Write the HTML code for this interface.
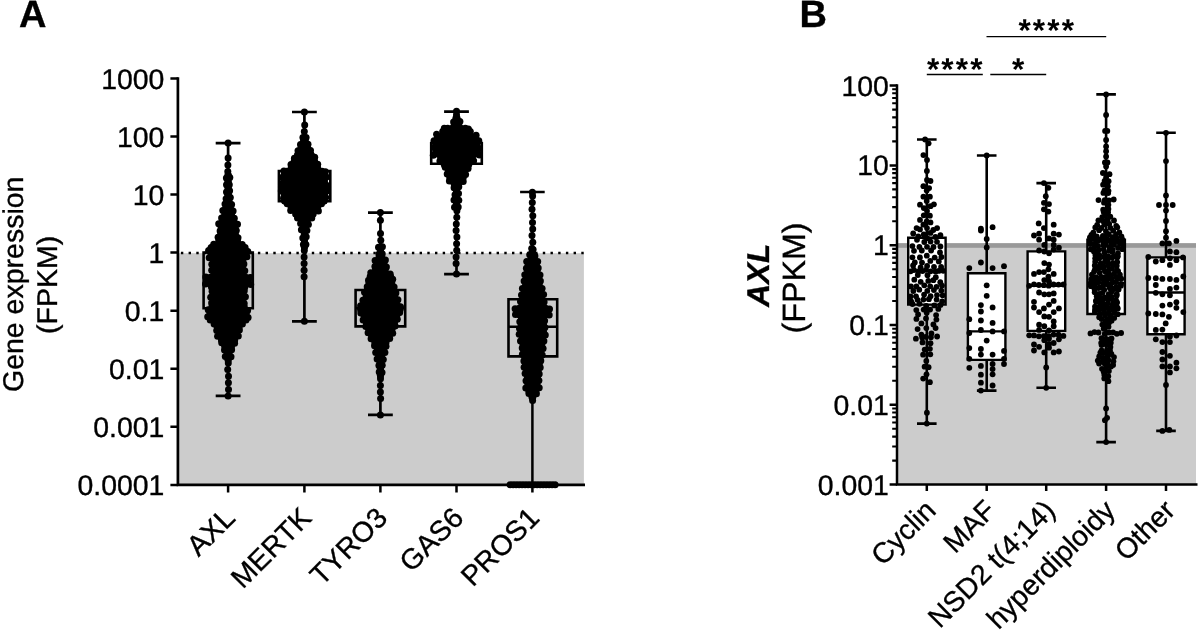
<!DOCTYPE html>
<html lang="en"><head><meta charset="utf-8"><title>Figure</title>
<style>html,body{margin:0;padding:0;background:#fff;overflow:hidden}body{width:1200px;height:630px;position:relative}svg{display:block}</style></head>
<body>
<svg width="1200" height="630" viewBox="0 0 1200 630" style="position:absolute;left:0;top:0;font-family:'Liberation Sans', Arial, Helvetica, sans-serif" text-rendering="geometricPrecision">
<style>text{stroke:#000;stroke-width:0.35px;paint-order:stroke}</style>
<rect x="0" y="0" width="1200" height="630" fill="#fff"/>
<text x="19.1" y="26.8" font-size="38" font-weight="700">A</text>
<text x="799.6" y="26.8" font-size="38" font-weight="700">B</text>
<rect x="177.9" y="253.2" width="406" height="231.7" fill="#cccccc"/>
<path d="M180.9 253H583.9" stroke="#000" stroke-width="2.4" stroke-dasharray="2.4 5.3" fill="none"/>
<path d="M203.6 252.5H252.8V308.3H203.6ZM203.6 276H252.8" fill="none" stroke="#000" stroke-width="2.6"/>
<path d="M278.9 171H330.3V201.3H278.9ZM278.9 187H330.3" fill="none" stroke="#000" stroke-width="2.6"/>
<path d="M355.6 290H405.2V326.4H355.6ZM355.6 308H405.2" fill="none" stroke="#000" stroke-width="2.6"/>
<path d="M431.2 143H481.8V163.8H431.2ZM431.2 153H481.8" fill="none" stroke="#000" stroke-width="2.6"/>
<path d="M508.5 299.3H557.2V356.4H508.5ZM508.5 326.8H557.2" fill="none" stroke="#000" stroke-width="2.6"/>
<path d="M215.7 143.1H240.5M215.7 395.9H240.5M228.1 143.1V395.9" fill="none" stroke="#000" stroke-width="2.7"/>
<path d="M292 112H316.8M292 321.3H316.8M304.4 112V321.3" fill="none" stroke="#000" stroke-width="2.7"/>
<path d="M368 212.6H392.8M368 414.9H392.8M380.4 212.6V414.9" fill="none" stroke="#000" stroke-width="2.7"/>
<path d="M444.1 111.6H468.9M444.1 274.2H468.9M456.5 111.6V274.2" fill="none" stroke="#000" stroke-width="2.7"/>
<path d="M520.1 192.1H544.7M532.4 192.1V484.7" fill="none" stroke="#000" stroke-width="2.5"/>
<g fill="#000"><circle cx="227.9" cy="165" r="3.5"/><circle cx="227.8" cy="171.6" r="3.5"/><circle cx="228.1" cy="174.9" r="3.5"/><circle cx="228.1" cy="174.9" r="3.5"/><circle cx="228.1" cy="178.2" r="3.5"/><circle cx="229.8" cy="177.5" r="3.5"/><circle cx="226.4" cy="178" r="3.5"/><circle cx="228.1" cy="181.5" r="3.5"/><circle cx="228.1" cy="181.5" r="3.5"/><circle cx="228.1" cy="184.8" r="3.5"/><circle cx="229.3" cy="184.8" r="3.5"/><circle cx="226.5" cy="184.7" r="3.5"/><circle cx="228.1" cy="188.1" r="3.5"/><circle cx="228.1" cy="188.1" r="3.5"/><circle cx="228.1" cy="191.4" r="3.5"/><circle cx="229.6" cy="190.7" r="3.5"/><circle cx="226.5" cy="191.9" r="3.5"/><circle cx="228.5" cy="194.7" r="3.5"/><circle cx="227.7" cy="194.7" r="3.5"/><circle cx="228.1" cy="198" r="3.5"/><circle cx="230.3" cy="197.6" r="3.5"/><circle cx="226.1" cy="198.7" r="3.5"/><circle cx="229" cy="201.3" r="3.5"/><circle cx="227.2" cy="201.3" r="3.5"/><circle cx="228.1" cy="204.6" r="3.5"/><circle cx="231.6" cy="204.4" r="3.5"/><circle cx="225" cy="203.9" r="3.5"/><circle cx="225.9" cy="207.9" r="3.5"/><circle cx="230.3" cy="207.9" r="3.5"/><circle cx="230" cy="207.9" r="3.5"/><circle cx="226.2" cy="207.9" r="3.5"/><circle cx="228.1" cy="211.2" r="3.5"/><circle cx="233.1" cy="210.9" r="3.5"/><circle cx="222.8" cy="210.6" r="3.5"/><circle cx="225.9" cy="214.5" r="3.5"/><circle cx="230.3" cy="214.5" r="3.5"/><circle cx="231.5" cy="214.5" r="3.5"/><circle cx="224.7" cy="214.5" r="3.5"/><circle cx="223.7" cy="217.8" r="3.5"/><circle cx="228.1" cy="217.8" r="3.5"/><circle cx="232.5" cy="217.8" r="3.5"/><circle cx="234.3" cy="218.3" r="3.5"/><circle cx="221.6" cy="217.9" r="3.5"/><circle cx="225.9" cy="221.1" r="3.5"/><circle cx="230.3" cy="221.1" r="3.5"/><circle cx="233.8" cy="221.1" r="3.5"/><circle cx="222.4" cy="221.1" r="3.5"/><circle cx="223.7" cy="224.4" r="3.5"/><circle cx="228.1" cy="224.4" r="3.5"/><circle cx="232.5" cy="224.4" r="3.5"/><circle cx="237.5" cy="224.2" r="3.5"/><circle cx="218.7" cy="223.7" r="3.5"/><circle cx="221.5" cy="227.7" r="3.5"/><circle cx="225.9" cy="227.7" r="3.5"/><circle cx="230.3" cy="227.7" r="3.5"/><circle cx="234.7" cy="227.7" r="3.5"/><circle cx="235.1" cy="227.7" r="3.5"/><circle cx="221.1" cy="227.7" r="3.5"/><circle cx="223.7" cy="231" r="3.5"/><circle cx="228.1" cy="231" r="3.5"/><circle cx="232.5" cy="231" r="3.5"/><circle cx="236.3" cy="230.5" r="3.5"/><circle cx="220.1" cy="230.9" r="3.5"/><circle cx="221.5" cy="234.3" r="3.5"/><circle cx="225.9" cy="234.3" r="3.5"/><circle cx="230.3" cy="234.3" r="3.5"/><circle cx="234.7" cy="234.3" r="3.5"/><circle cx="235.4" cy="234.3" r="3.5"/><circle cx="220.8" cy="234.3" r="3.5"/><circle cx="223.7" cy="237.6" r="3.5"/><circle cx="228.1" cy="237.6" r="3.5"/><circle cx="232.5" cy="237.6" r="3.5"/><circle cx="238" cy="237.7" r="3.5"/><circle cx="218.1" cy="237.3" r="3.5"/><circle cx="221.5" cy="240.9" r="3.5"/><circle cx="225.9" cy="240.9" r="3.5"/><circle cx="230.3" cy="240.9" r="3.5"/><circle cx="234.7" cy="240.9" r="3.5"/><circle cx="237.5" cy="240.9" r="3.5"/><circle cx="218.7" cy="240.9" r="3.5"/><circle cx="219.3" cy="244.2" r="3.5"/><circle cx="223.7" cy="244.2" r="3.5"/><circle cx="228.1" cy="244.2" r="3.5"/><circle cx="232.5" cy="244.2" r="3.5"/><circle cx="236.9" cy="244.2" r="3.5"/><circle cx="242.2" cy="244.5" r="3.5"/><circle cx="213.7" cy="244.3" r="3.5"/><circle cx="212.7" cy="247.5" r="3.5"/><circle cx="217.1" cy="247.5" r="3.5"/><circle cx="221.5" cy="247.5" r="3.5"/><circle cx="225.9" cy="247.5" r="3.5"/><circle cx="230.3" cy="247.5" r="3.5"/><circle cx="234.7" cy="247.5" r="3.5"/><circle cx="239.1" cy="247.5" r="3.5"/><circle cx="243.5" cy="247.5" r="3.5"/><circle cx="245.1" cy="247.5" r="3.5"/><circle cx="211.1" cy="247.5" r="3.5"/><circle cx="210.5" cy="250.8" r="3.5"/><circle cx="214.9" cy="250.8" r="3.5"/><circle cx="219.3" cy="250.8" r="3.5"/><circle cx="223.7" cy="250.8" r="3.5"/><circle cx="228.1" cy="250.8" r="3.5"/><circle cx="232.5" cy="250.8" r="3.5"/><circle cx="236.9" cy="250.8" r="3.5"/><circle cx="241.3" cy="250.8" r="3.5"/><circle cx="245.7" cy="250.8" r="3.5"/><circle cx="247.8" cy="251.4" r="3.5"/><circle cx="208.6" cy="250.5" r="3.5"/><circle cx="212.7" cy="254.1" r="3.5"/><circle cx="217.1" cy="254.1" r="3.5"/><circle cx="221.5" cy="254.1" r="3.5"/><circle cx="225.9" cy="254.1" r="3.5"/><circle cx="230.3" cy="254.1" r="3.5"/><circle cx="234.7" cy="254.1" r="3.5"/><circle cx="239.1" cy="254.1" r="3.5"/><circle cx="243.5" cy="254.1" r="3.5"/><circle cx="245.2" cy="254.1" r="3.5"/><circle cx="211" cy="254.1" r="3.5"/><circle cx="214.9" cy="257.4" r="3.5"/><circle cx="219.3" cy="257.4" r="3.5"/><circle cx="223.7" cy="257.4" r="3.5"/><circle cx="228.1" cy="257.4" r="3.5"/><circle cx="232.5" cy="257.4" r="3.5"/><circle cx="236.9" cy="257.4" r="3.5"/><circle cx="241.3" cy="257.4" r="3.5"/><circle cx="246.9" cy="256.8" r="3.5"/><circle cx="209.2" cy="257.8" r="3.5"/><circle cx="217.1" cy="260.7" r="3.5"/><circle cx="221.5" cy="260.7" r="3.5"/><circle cx="225.9" cy="260.7" r="3.5"/><circle cx="230.3" cy="260.7" r="3.5"/><circle cx="234.7" cy="260.7" r="3.5"/><circle cx="239.1" cy="260.7" r="3.5"/><circle cx="242.9" cy="260.7" r="3.5"/><circle cx="213.3" cy="260.7" r="3.5"/><circle cx="214.9" cy="264" r="3.5"/><circle cx="219.3" cy="264" r="3.5"/><circle cx="223.7" cy="264" r="3.5"/><circle cx="228.1" cy="264" r="3.5"/><circle cx="232.5" cy="264" r="3.5"/><circle cx="236.9" cy="264" r="3.5"/><circle cx="241.3" cy="264" r="3.5"/><circle cx="243.9" cy="264" r="3.5"/><circle cx="211.8" cy="264.3" r="3.5"/><circle cx="217.1" cy="267.3" r="3.5"/><circle cx="221.5" cy="267.3" r="3.5"/><circle cx="225.9" cy="267.3" r="3.5"/><circle cx="230.3" cy="267.3" r="3.5"/><circle cx="234.7" cy="267.3" r="3.5"/><circle cx="239.1" cy="267.3" r="3.5"/><circle cx="242.4" cy="267.3" r="3.5"/><circle cx="213.8" cy="267.3" r="3.5"/><circle cx="214.9" cy="270.6" r="3.5"/><circle cx="219.3" cy="270.6" r="3.5"/><circle cx="223.7" cy="270.6" r="3.5"/><circle cx="228.1" cy="270.6" r="3.5"/><circle cx="232.5" cy="270.6" r="3.5"/><circle cx="236.9" cy="270.6" r="3.5"/><circle cx="241.3" cy="270.6" r="3.5"/><circle cx="244.8" cy="270.7" r="3.5"/><circle cx="211.7" cy="270.3" r="3.5"/><circle cx="217.1" cy="273.9" r="3.5"/><circle cx="221.5" cy="273.9" r="3.5"/><circle cx="225.9" cy="273.9" r="3.5"/><circle cx="230.3" cy="273.9" r="3.5"/><circle cx="234.7" cy="273.9" r="3.5"/><circle cx="239.1" cy="273.9" r="3.5"/><circle cx="242.4" cy="273.9" r="3.5"/><circle cx="213.8" cy="273.9" r="3.5"/><circle cx="210.5" cy="277.2" r="3.5"/><circle cx="214.9" cy="277.2" r="3.5"/><circle cx="219.3" cy="277.2" r="3.5"/><circle cx="223.7" cy="277.2" r="3.5"/><circle cx="228.1" cy="277.2" r="3.5"/><circle cx="232.5" cy="277.2" r="3.5"/><circle cx="236.9" cy="277.2" r="3.5"/><circle cx="241.3" cy="277.2" r="3.5"/><circle cx="245.7" cy="277.2" r="3.5"/><circle cx="250.4" cy="277.4" r="3.5"/><circle cx="205.8" cy="277.1" r="3.5"/><circle cx="208.3" cy="280.5" r="3.5"/><circle cx="212.7" cy="280.5" r="3.5"/><circle cx="217.1" cy="280.5" r="3.5"/><circle cx="221.5" cy="280.5" r="3.5"/><circle cx="225.9" cy="280.5" r="3.5"/><circle cx="230.3" cy="280.5" r="3.5"/><circle cx="234.7" cy="280.5" r="3.5"/><circle cx="239.1" cy="280.5" r="3.5"/><circle cx="243.5" cy="280.5" r="3.5"/><circle cx="247.9" cy="280.5" r="3.5"/><circle cx="248.1" cy="280.5" r="3.5"/><circle cx="208.1" cy="280.5" r="3.5"/><circle cx="210.5" cy="283.8" r="3.5"/><circle cx="214.9" cy="283.8" r="3.5"/><circle cx="219.3" cy="283.8" r="3.5"/><circle cx="223.7" cy="283.8" r="3.5"/><circle cx="228.1" cy="283.8" r="3.5"/><circle cx="232.5" cy="283.8" r="3.5"/><circle cx="236.9" cy="283.8" r="3.5"/><circle cx="241.3" cy="283.8" r="3.5"/><circle cx="245.7" cy="283.8" r="3.5"/><circle cx="250.7" cy="284.5" r="3.5"/><circle cx="205.5" cy="284.1" r="3.5"/><circle cx="212.7" cy="287.1" r="3.5"/><circle cx="217.1" cy="287.1" r="3.5"/><circle cx="221.5" cy="287.1" r="3.5"/><circle cx="225.9" cy="287.1" r="3.5"/><circle cx="230.3" cy="287.1" r="3.5"/><circle cx="234.7" cy="287.1" r="3.5"/><circle cx="239.1" cy="287.1" r="3.5"/><circle cx="243.5" cy="287.1" r="3.5"/><circle cx="244.8" cy="287.1" r="3.5"/><circle cx="211.4" cy="287.1" r="3.5"/><circle cx="214.9" cy="290.4" r="3.5"/><circle cx="219.3" cy="290.4" r="3.5"/><circle cx="223.7" cy="290.4" r="3.5"/><circle cx="228.1" cy="290.4" r="3.5"/><circle cx="232.5" cy="290.4" r="3.5"/><circle cx="236.9" cy="290.4" r="3.5"/><circle cx="241.3" cy="290.4" r="3.5"/><circle cx="244.3" cy="290.7" r="3.5"/><circle cx="212.1" cy="291.2" r="3.5"/><circle cx="217.1" cy="293.7" r="3.5"/><circle cx="221.5" cy="293.7" r="3.5"/><circle cx="225.9" cy="293.7" r="3.5"/><circle cx="230.3" cy="293.7" r="3.5"/><circle cx="234.7" cy="293.7" r="3.5"/><circle cx="239.1" cy="293.7" r="3.5"/><circle cx="242.9" cy="293.7" r="3.5"/><circle cx="213.3" cy="293.7" r="3.5"/><circle cx="214.9" cy="297" r="3.5"/><circle cx="219.3" cy="297" r="3.5"/><circle cx="223.7" cy="297" r="3.5"/><circle cx="228.1" cy="297" r="3.5"/><circle cx="232.5" cy="297" r="3.5"/><circle cx="236.9" cy="297" r="3.5"/><circle cx="241.3" cy="297" r="3.5"/><circle cx="245.4" cy="296.7" r="3.5"/><circle cx="210.7" cy="297.3" r="3.5"/><circle cx="217.1" cy="300.3" r="3.5"/><circle cx="221.5" cy="300.3" r="3.5"/><circle cx="225.9" cy="300.3" r="3.5"/><circle cx="230.3" cy="300.3" r="3.5"/><circle cx="234.7" cy="300.3" r="3.5"/><circle cx="239.1" cy="300.3" r="3.5"/><circle cx="242.9" cy="300.3" r="3.5"/><circle cx="213.3" cy="300.3" r="3.5"/><circle cx="214.9" cy="303.6" r="3.5"/><circle cx="219.3" cy="303.6" r="3.5"/><circle cx="223.7" cy="303.6" r="3.5"/><circle cx="228.1" cy="303.6" r="3.5"/><circle cx="232.5" cy="303.6" r="3.5"/><circle cx="236.9" cy="303.6" r="3.5"/><circle cx="241.3" cy="303.6" r="3.5"/><circle cx="244.2" cy="303.5" r="3.5"/><circle cx="211.6" cy="303" r="3.5"/><circle cx="212.7" cy="306.9" r="3.5"/><circle cx="217.1" cy="306.9" r="3.5"/><circle cx="221.5" cy="306.9" r="3.5"/><circle cx="225.9" cy="306.9" r="3.5"/><circle cx="230.3" cy="306.9" r="3.5"/><circle cx="234.7" cy="306.9" r="3.5"/><circle cx="239.1" cy="306.9" r="3.5"/><circle cx="243.5" cy="306.9" r="3.5"/><circle cx="244.3" cy="306.9" r="3.5"/><circle cx="211.9" cy="306.9" r="3.5"/><circle cx="210.5" cy="310.2" r="3.5"/><circle cx="214.9" cy="310.2" r="3.5"/><circle cx="219.3" cy="310.2" r="3.5"/><circle cx="223.7" cy="310.2" r="3.5"/><circle cx="228.1" cy="310.2" r="3.5"/><circle cx="232.5" cy="310.2" r="3.5"/><circle cx="236.9" cy="310.2" r="3.5"/><circle cx="241.3" cy="310.2" r="3.5"/><circle cx="245.7" cy="310.2" r="3.5"/><circle cx="247.6" cy="310.6" r="3.5"/><circle cx="208.2" cy="309.8" r="3.5"/><circle cx="212.7" cy="313.5" r="3.5"/><circle cx="217.1" cy="313.5" r="3.5"/><circle cx="221.5" cy="313.5" r="3.5"/><circle cx="225.9" cy="313.5" r="3.5"/><circle cx="230.3" cy="313.5" r="3.5"/><circle cx="234.7" cy="313.5" r="3.5"/><circle cx="239.1" cy="313.5" r="3.5"/><circle cx="243.5" cy="313.5" r="3.5"/><circle cx="246.2" cy="313.5" r="3.5"/><circle cx="210" cy="313.5" r="3.5"/><circle cx="210.5" cy="316.8" r="3.5"/><circle cx="214.9" cy="316.8" r="3.5"/><circle cx="219.3" cy="316.8" r="3.5"/><circle cx="223.7" cy="316.8" r="3.5"/><circle cx="228.1" cy="316.8" r="3.5"/><circle cx="232.5" cy="316.8" r="3.5"/><circle cx="236.9" cy="316.8" r="3.5"/><circle cx="241.3" cy="316.8" r="3.5"/><circle cx="245.7" cy="316.8" r="3.5"/><circle cx="248.1" cy="317.4" r="3.5"/><circle cx="207.7" cy="316.7" r="3.5"/><circle cx="212.7" cy="320.1" r="3.5"/><circle cx="217.1" cy="320.1" r="3.5"/><circle cx="221.5" cy="320.1" r="3.5"/><circle cx="225.9" cy="320.1" r="3.5"/><circle cx="230.3" cy="320.1" r="3.5"/><circle cx="234.7" cy="320.1" r="3.5"/><circle cx="239.1" cy="320.1" r="3.5"/><circle cx="243.5" cy="320.1" r="3.5"/><circle cx="246" cy="320.1" r="3.5"/><circle cx="210.2" cy="320.1" r="3.5"/><circle cx="219.3" cy="323.4" r="3.5"/><circle cx="223.7" cy="323.4" r="3.5"/><circle cx="228.1" cy="323.4" r="3.5"/><circle cx="232.5" cy="323.4" r="3.5"/><circle cx="236.9" cy="323.4" r="3.5"/><circle cx="242.4" cy="324" r="3.5"/><circle cx="214.1" cy="324" r="3.5"/><circle cx="217.1" cy="326.7" r="3.5"/><circle cx="221.5" cy="326.7" r="3.5"/><circle cx="225.9" cy="326.7" r="3.5"/><circle cx="230.3" cy="326.7" r="3.5"/><circle cx="234.7" cy="326.7" r="3.5"/><circle cx="239.1" cy="326.7" r="3.5"/><circle cx="238.7" cy="326.7" r="3.5"/><circle cx="217.5" cy="326.7" r="3.5"/><circle cx="219.3" cy="330" r="3.5"/><circle cx="223.7" cy="330" r="3.5"/><circle cx="228.1" cy="330" r="3.5"/><circle cx="232.5" cy="330" r="3.5"/><circle cx="236.9" cy="330" r="3.5"/><circle cx="239.4" cy="329.9" r="3.5"/><circle cx="216.7" cy="330.6" r="3.5"/><circle cx="221.5" cy="333.3" r="3.5"/><circle cx="225.9" cy="333.3" r="3.5"/><circle cx="230.3" cy="333.3" r="3.5"/><circle cx="234.7" cy="333.3" r="3.5"/><circle cx="236.6" cy="333.3" r="3.5"/><circle cx="219.6" cy="333.3" r="3.5"/><circle cx="223.7" cy="336.6" r="3.5"/><circle cx="228.1" cy="336.6" r="3.5"/><circle cx="232.5" cy="336.6" r="3.5"/><circle cx="238.3" cy="336" r="3.5"/><circle cx="217.6" cy="336.2" r="3.5"/><circle cx="221.5" cy="339.9" r="3.5"/><circle cx="225.9" cy="339.9" r="3.5"/><circle cx="230.3" cy="339.9" r="3.5"/><circle cx="234.7" cy="339.9" r="3.5"/><circle cx="234.4" cy="339.9" r="3.5"/><circle cx="221.8" cy="339.9" r="3.5"/><circle cx="223.7" cy="343.2" r="3.5"/><circle cx="228.1" cy="343.2" r="3.5"/><circle cx="232.5" cy="343.2" r="3.5"/><circle cx="234.6" cy="343.2" r="3.5"/><circle cx="221.7" cy="342.8" r="3.5"/><circle cx="225.9" cy="346.5" r="3.5"/><circle cx="230.3" cy="346.5" r="3.5"/><circle cx="231.5" cy="346.5" r="3.5"/><circle cx="224.7" cy="346.5" r="3.5"/><circle cx="228.1" cy="349.8" r="3.5"/><circle cx="231.6" cy="349.7" r="3.5"/><circle cx="224.5" cy="349.9" r="3.5"/><circle cx="229" cy="353.1" r="3.5"/><circle cx="227.2" cy="353.1" r="3.5"/><circle cx="228.1" cy="356.4" r="3.5"/><circle cx="231" cy="356.7" r="3.5"/><circle cx="225.3" cy="356.6" r="3.5"/><circle cx="228.1" cy="359.7" r="3.5"/><circle cx="228.1" cy="359.7" r="3.5"/><circle cx="228.3" cy="363" r="3.5"/><circle cx="227.7" cy="369.6" r="3.5"/><circle cx="228.5" cy="376.2" r="3.5"/><circle cx="228.4" cy="382.8" r="3.5"/><circle cx="228.5" cy="389.4" r="3.5"/><circle cx="228.1" cy="143.1" r="3.5"/><circle cx="228.1" cy="158" r="3.5"/><circle cx="228.1" cy="395.9" r="3.5"/><circle cx="304.7" cy="125" r="3.5"/><circle cx="304.3" cy="131.6" r="3.5"/><circle cx="304.4" cy="138.2" r="3.5"/><circle cx="306.1" cy="137.6" r="3.5"/><circle cx="302.9" cy="137.5" r="3.5"/><circle cx="305.4" cy="141.5" r="3.5"/><circle cx="303.4" cy="141.5" r="3.5"/><circle cx="304.4" cy="144.8" r="3.5"/><circle cx="308" cy="144.3" r="3.5"/><circle cx="300.5" cy="144.5" r="3.5"/><circle cx="302.2" cy="148.1" r="3.5"/><circle cx="306.6" cy="148.1" r="3.5"/><circle cx="307.8" cy="148.1" r="3.5"/><circle cx="301" cy="148.1" r="3.5"/><circle cx="300" cy="151.4" r="3.5"/><circle cx="304.4" cy="151.4" r="3.5"/><circle cx="308.8" cy="151.4" r="3.5"/><circle cx="310.5" cy="150.6" r="3.5"/><circle cx="298" cy="150.8" r="3.5"/><circle cx="297.8" cy="154.7" r="3.5"/><circle cx="302.2" cy="154.7" r="3.5"/><circle cx="306.6" cy="154.7" r="3.5"/><circle cx="311" cy="154.7" r="3.5"/><circle cx="311.1" cy="154.7" r="3.5"/><circle cx="297.7" cy="154.7" r="3.5"/><circle cx="295.6" cy="158" r="3.5"/><circle cx="300" cy="158" r="3.5"/><circle cx="304.4" cy="158" r="3.5"/><circle cx="308.8" cy="158" r="3.5"/><circle cx="313.2" cy="158" r="3.5"/><circle cx="314.7" cy="157.2" r="3.5"/><circle cx="294.4" cy="158.2" r="3.5"/><circle cx="297.8" cy="161.3" r="3.5"/><circle cx="302.2" cy="161.3" r="3.5"/><circle cx="306.6" cy="161.3" r="3.5"/><circle cx="311" cy="161.3" r="3.5"/><circle cx="314.6" cy="161.3" r="3.5"/><circle cx="294.2" cy="161.3" r="3.5"/><circle cx="295.6" cy="164.6" r="3.5"/><circle cx="300" cy="164.6" r="3.5"/><circle cx="304.4" cy="164.6" r="3.5"/><circle cx="308.8" cy="164.6" r="3.5"/><circle cx="313.2" cy="164.6" r="3.5"/><circle cx="317.7" cy="164.2" r="3.5"/><circle cx="291" cy="164.4" r="3.5"/><circle cx="293.4" cy="167.9" r="3.5"/><circle cx="297.8" cy="167.9" r="3.5"/><circle cx="302.2" cy="167.9" r="3.5"/><circle cx="306.6" cy="167.9" r="3.5"/><circle cx="311" cy="167.9" r="3.5"/><circle cx="315.4" cy="167.9" r="3.5"/><circle cx="317.7" cy="167.9" r="3.5"/><circle cx="291.1" cy="167.9" r="3.5"/><circle cx="286.8" cy="171.2" r="3.5"/><circle cx="291.2" cy="171.2" r="3.5"/><circle cx="295.6" cy="171.2" r="3.5"/><circle cx="300" cy="171.2" r="3.5"/><circle cx="304.4" cy="171.2" r="3.5"/><circle cx="308.8" cy="171.2" r="3.5"/><circle cx="313.2" cy="171.2" r="3.5"/><circle cx="317.6" cy="171.2" r="3.5"/><circle cx="322" cy="171.2" r="3.5"/><circle cx="325.4" cy="171.8" r="3.5"/><circle cx="283.9" cy="171.1" r="3.5"/><circle cx="284.6" cy="174.5" r="3.5"/><circle cx="289" cy="174.5" r="3.5"/><circle cx="293.4" cy="174.5" r="3.5"/><circle cx="297.8" cy="174.5" r="3.5"/><circle cx="302.2" cy="174.5" r="3.5"/><circle cx="306.6" cy="174.5" r="3.5"/><circle cx="311" cy="174.5" r="3.5"/><circle cx="315.4" cy="174.5" r="3.5"/><circle cx="319.8" cy="174.5" r="3.5"/><circle cx="324.2" cy="174.5" r="3.5"/><circle cx="324.4" cy="174.5" r="3.5"/><circle cx="284.4" cy="174.5" r="3.5"/><circle cx="286.8" cy="177.8" r="3.5"/><circle cx="291.2" cy="177.8" r="3.5"/><circle cx="295.6" cy="177.8" r="3.5"/><circle cx="300" cy="177.8" r="3.5"/><circle cx="304.4" cy="177.8" r="3.5"/><circle cx="308.8" cy="177.8" r="3.5"/><circle cx="313.2" cy="177.8" r="3.5"/><circle cx="317.6" cy="177.8" r="3.5"/><circle cx="322" cy="177.8" r="3.5"/><circle cx="326.4" cy="177.1" r="3.5"/><circle cx="282" cy="177.5" r="3.5"/><circle cx="284.6" cy="181.1" r="3.5"/><circle cx="289" cy="181.1" r="3.5"/><circle cx="293.4" cy="181.1" r="3.5"/><circle cx="297.8" cy="181.1" r="3.5"/><circle cx="302.2" cy="181.1" r="3.5"/><circle cx="306.6" cy="181.1" r="3.5"/><circle cx="311" cy="181.1" r="3.5"/><circle cx="315.4" cy="181.1" r="3.5"/><circle cx="319.8" cy="181.1" r="3.5"/><circle cx="324.2" cy="181.1" r="3.5"/><circle cx="324.4" cy="181.1" r="3.5"/><circle cx="284.4" cy="181.1" r="3.5"/><circle cx="286.8" cy="184.4" r="3.5"/><circle cx="291.2" cy="184.4" r="3.5"/><circle cx="295.6" cy="184.4" r="3.5"/><circle cx="300" cy="184.4" r="3.5"/><circle cx="304.4" cy="184.4" r="3.5"/><circle cx="308.8" cy="184.4" r="3.5"/><circle cx="313.2" cy="184.4" r="3.5"/><circle cx="317.6" cy="184.4" r="3.5"/><circle cx="322" cy="184.4" r="3.5"/><circle cx="326.1" cy="184.9" r="3.5"/><circle cx="282.4" cy="183.6" r="3.5"/><circle cx="284.6" cy="187.7" r="3.5"/><circle cx="289" cy="187.7" r="3.5"/><circle cx="293.4" cy="187.7" r="3.5"/><circle cx="297.8" cy="187.7" r="3.5"/><circle cx="302.2" cy="187.7" r="3.5"/><circle cx="306.6" cy="187.7" r="3.5"/><circle cx="311" cy="187.7" r="3.5"/><circle cx="315.4" cy="187.7" r="3.5"/><circle cx="319.8" cy="187.7" r="3.5"/><circle cx="324.2" cy="187.7" r="3.5"/><circle cx="324.4" cy="187.7" r="3.5"/><circle cx="284.4" cy="187.7" r="3.5"/><circle cx="286.8" cy="191" r="3.5"/><circle cx="291.2" cy="191" r="3.5"/><circle cx="295.6" cy="191" r="3.5"/><circle cx="300" cy="191" r="3.5"/><circle cx="304.4" cy="191" r="3.5"/><circle cx="308.8" cy="191" r="3.5"/><circle cx="313.2" cy="191" r="3.5"/><circle cx="317.6" cy="191" r="3.5"/><circle cx="322" cy="191" r="3.5"/><circle cx="327.1" cy="191" r="3.5"/><circle cx="281.3" cy="191.1" r="3.5"/><circle cx="284.6" cy="194.3" r="3.5"/><circle cx="289" cy="194.3" r="3.5"/><circle cx="293.4" cy="194.3" r="3.5"/><circle cx="297.8" cy="194.3" r="3.5"/><circle cx="302.2" cy="194.3" r="3.5"/><circle cx="306.6" cy="194.3" r="3.5"/><circle cx="311" cy="194.3" r="3.5"/><circle cx="315.4" cy="194.3" r="3.5"/><circle cx="319.8" cy="194.3" r="3.5"/><circle cx="324.2" cy="194.3" r="3.5"/><circle cx="324.4" cy="194.3" r="3.5"/><circle cx="284.4" cy="194.3" r="3.5"/><circle cx="286.8" cy="197.6" r="3.5"/><circle cx="291.2" cy="197.6" r="3.5"/><circle cx="295.6" cy="197.6" r="3.5"/><circle cx="300" cy="197.6" r="3.5"/><circle cx="304.4" cy="197.6" r="3.5"/><circle cx="308.8" cy="197.6" r="3.5"/><circle cx="313.2" cy="197.6" r="3.5"/><circle cx="317.6" cy="197.6" r="3.5"/><circle cx="322" cy="197.6" r="3.5"/><circle cx="325.7" cy="197.6" r="3.5"/><circle cx="283.5" cy="198.2" r="3.5"/><circle cx="284.6" cy="200.9" r="3.5"/><circle cx="289" cy="200.9" r="3.5"/><circle cx="293.4" cy="200.9" r="3.5"/><circle cx="297.8" cy="200.9" r="3.5"/><circle cx="302.2" cy="200.9" r="3.5"/><circle cx="306.6" cy="200.9" r="3.5"/><circle cx="311" cy="200.9" r="3.5"/><circle cx="315.4" cy="200.9" r="3.5"/><circle cx="319.8" cy="200.9" r="3.5"/><circle cx="324.2" cy="200.9" r="3.5"/><circle cx="323.8" cy="200.9" r="3.5"/><circle cx="285" cy="200.9" r="3.5"/><circle cx="291.2" cy="204.2" r="3.5"/><circle cx="295.6" cy="204.2" r="3.5"/><circle cx="300" cy="204.2" r="3.5"/><circle cx="304.4" cy="204.2" r="3.5"/><circle cx="308.8" cy="204.2" r="3.5"/><circle cx="313.2" cy="204.2" r="3.5"/><circle cx="317.6" cy="204.2" r="3.5"/><circle cx="321.5" cy="203.8" r="3.5"/><circle cx="287.2" cy="203.7" r="3.5"/><circle cx="293.4" cy="207.5" r="3.5"/><circle cx="297.8" cy="207.5" r="3.5"/><circle cx="302.2" cy="207.5" r="3.5"/><circle cx="306.6" cy="207.5" r="3.5"/><circle cx="311" cy="207.5" r="3.5"/><circle cx="315.4" cy="207.5" r="3.5"/><circle cx="317.7" cy="207.5" r="3.5"/><circle cx="291.1" cy="207.5" r="3.5"/><circle cx="295.6" cy="210.8" r="3.5"/><circle cx="300" cy="210.8" r="3.5"/><circle cx="304.4" cy="210.8" r="3.5"/><circle cx="308.8" cy="210.8" r="3.5"/><circle cx="313.2" cy="210.8" r="3.5"/><circle cx="318.4" cy="210.9" r="3.5"/><circle cx="290.7" cy="210.5" r="3.5"/><circle cx="297.8" cy="214.1" r="3.5"/><circle cx="302.2" cy="214.1" r="3.5"/><circle cx="306.6" cy="214.1" r="3.5"/><circle cx="311" cy="214.1" r="3.5"/><circle cx="313.2" cy="214.1" r="3.5"/><circle cx="295.6" cy="214.1" r="3.5"/><circle cx="300" cy="217.4" r="3.5"/><circle cx="304.4" cy="217.4" r="3.5"/><circle cx="308.8" cy="217.4" r="3.5"/><circle cx="311.8" cy="217.9" r="3.5"/><circle cx="297.5" cy="218" r="3.5"/><circle cx="302.2" cy="220.7" r="3.5"/><circle cx="306.6" cy="220.7" r="3.5"/><circle cx="307.4" cy="220.7" r="3.5"/><circle cx="301.4" cy="220.7" r="3.5"/><circle cx="304.4" cy="224" r="3.5"/><circle cx="308.4" cy="224.5" r="3.5"/><circle cx="300.6" cy="223.6" r="3.5"/><circle cx="305.2" cy="227.3" r="3.5"/><circle cx="303.6" cy="227.3" r="3.5"/><circle cx="304.4" cy="230.6" r="3.5"/><circle cx="306.9" cy="230.4" r="3.5"/><circle cx="301.4" cy="229.8" r="3.5"/><circle cx="304.6" cy="233.9" r="3.5"/><circle cx="304.2" cy="233.9" r="3.5"/><circle cx="304.4" cy="237.2" r="3.5"/><circle cx="306.2" cy="236.8" r="3.5"/><circle cx="302.8" cy="237.9" r="3.5"/><circle cx="304.4" cy="240.5" r="3.5"/><circle cx="304.4" cy="240.5" r="3.5"/><circle cx="304.4" cy="243.8" r="3.5"/><circle cx="305.9" cy="244.5" r="3.5"/><circle cx="303.4" cy="244.5" r="3.5"/><circle cx="304.4" cy="247.1" r="3.5"/><circle cx="304.4" cy="247.1" r="3.5"/><circle cx="304.3" cy="250.4" r="3.5"/><circle cx="304.1" cy="257" r="3.5"/><circle cx="304.1" cy="263.6" r="3.5"/><circle cx="304.1" cy="270.2" r="3.5"/><circle cx="304.1" cy="276.8" r="3.5"/><circle cx="304.4" cy="112.1" r="3.5"/><circle cx="304.4" cy="321.2" r="3.5"/><circle cx="380.5" cy="233.6" r="3.5"/><circle cx="380.8" cy="240.2" r="3.5"/><circle cx="380.4" cy="246.8" r="3.5"/><circle cx="382.4" cy="246.8" r="3.5"/><circle cx="378.5" cy="247.3" r="3.5"/><circle cx="380.4" cy="250.1" r="3.5"/><circle cx="380.4" cy="250.1" r="3.5"/><circle cx="380.4" cy="253.4" r="3.5"/><circle cx="382.2" cy="253.7" r="3.5"/><circle cx="379" cy="253.9" r="3.5"/><circle cx="381.7" cy="256.7" r="3.5"/><circle cx="379.1" cy="256.7" r="3.5"/><circle cx="380.4" cy="260" r="3.5"/><circle cx="385.4" cy="260" r="3.5"/><circle cx="375.1" cy="260.5" r="3.5"/><circle cx="378.2" cy="263.3" r="3.5"/><circle cx="382.6" cy="263.3" r="3.5"/><circle cx="383.9" cy="263.3" r="3.5"/><circle cx="376.8" cy="263.3" r="3.5"/><circle cx="376" cy="266.6" r="3.5"/><circle cx="380.4" cy="266.6" r="3.5"/><circle cx="384.8" cy="266.6" r="3.5"/><circle cx="386.4" cy="267.1" r="3.5"/><circle cx="374.9" cy="266.4" r="3.5"/><circle cx="378.2" cy="269.9" r="3.5"/><circle cx="382.6" cy="269.9" r="3.5"/><circle cx="385.3" cy="269.9" r="3.5"/><circle cx="375.5" cy="269.9" r="3.5"/><circle cx="376" cy="273.2" r="3.5"/><circle cx="380.4" cy="273.2" r="3.5"/><circle cx="384.8" cy="273.2" r="3.5"/><circle cx="390.2" cy="273.9" r="3.5"/><circle cx="370.8" cy="272.7" r="3.5"/><circle cx="373.8" cy="276.5" r="3.5"/><circle cx="378.2" cy="276.5" r="3.5"/><circle cx="382.6" cy="276.5" r="3.5"/><circle cx="387" cy="276.5" r="3.5"/><circle cx="390.6" cy="276.5" r="3.5"/><circle cx="370.2" cy="276.5" r="3.5"/><circle cx="371.6" cy="279.8" r="3.5"/><circle cx="376" cy="279.8" r="3.5"/><circle cx="380.4" cy="279.8" r="3.5"/><circle cx="384.8" cy="279.8" r="3.5"/><circle cx="389.2" cy="279.8" r="3.5"/><circle cx="392.7" cy="279.2" r="3.5"/><circle cx="368.5" cy="280.3" r="3.5"/><circle cx="369.4" cy="283.1" r="3.5"/><circle cx="373.8" cy="283.1" r="3.5"/><circle cx="378.2" cy="283.1" r="3.5"/><circle cx="382.6" cy="283.1" r="3.5"/><circle cx="387" cy="283.1" r="3.5"/><circle cx="391.4" cy="283.1" r="3.5"/><circle cx="391.8" cy="283.1" r="3.5"/><circle cx="369" cy="283.1" r="3.5"/><circle cx="371.6" cy="286.4" r="3.5"/><circle cx="376" cy="286.4" r="3.5"/><circle cx="380.4" cy="286.4" r="3.5"/><circle cx="384.8" cy="286.4" r="3.5"/><circle cx="389.2" cy="286.4" r="3.5"/><circle cx="394.1" cy="286.9" r="3.5"/><circle cx="367.2" cy="286.7" r="3.5"/><circle cx="369.4" cy="289.7" r="3.5"/><circle cx="373.8" cy="289.7" r="3.5"/><circle cx="378.2" cy="289.7" r="3.5"/><circle cx="382.6" cy="289.7" r="3.5"/><circle cx="387" cy="289.7" r="3.5"/><circle cx="391.4" cy="289.7" r="3.5"/><circle cx="393.4" cy="289.7" r="3.5"/><circle cx="367.4" cy="289.7" r="3.5"/><circle cx="367.2" cy="293" r="3.5"/><circle cx="371.6" cy="293" r="3.5"/><circle cx="376" cy="293" r="3.5"/><circle cx="380.4" cy="293" r="3.5"/><circle cx="384.8" cy="293" r="3.5"/><circle cx="389.2" cy="293" r="3.5"/><circle cx="393.6" cy="293" r="3.5"/><circle cx="395.9" cy="293.1" r="3.5"/><circle cx="364.5" cy="292.2" r="3.5"/><circle cx="369.4" cy="296.3" r="3.5"/><circle cx="373.8" cy="296.3" r="3.5"/><circle cx="378.2" cy="296.3" r="3.5"/><circle cx="382.6" cy="296.3" r="3.5"/><circle cx="387" cy="296.3" r="3.5"/><circle cx="391.4" cy="296.3" r="3.5"/><circle cx="394.6" cy="296.3" r="3.5"/><circle cx="366.2" cy="296.3" r="3.5"/><circle cx="367.2" cy="299.6" r="3.5"/><circle cx="371.6" cy="299.6" r="3.5"/><circle cx="376" cy="299.6" r="3.5"/><circle cx="380.4" cy="299.6" r="3.5"/><circle cx="384.8" cy="299.6" r="3.5"/><circle cx="389.2" cy="299.6" r="3.5"/><circle cx="393.6" cy="299.6" r="3.5"/><circle cx="397.9" cy="299.8" r="3.5"/><circle cx="362.9" cy="300.3" r="3.5"/><circle cx="365" cy="302.9" r="3.5"/><circle cx="369.4" cy="302.9" r="3.5"/><circle cx="373.8" cy="302.9" r="3.5"/><circle cx="378.2" cy="302.9" r="3.5"/><circle cx="382.6" cy="302.9" r="3.5"/><circle cx="387" cy="302.9" r="3.5"/><circle cx="391.4" cy="302.9" r="3.5"/><circle cx="395.8" cy="302.9" r="3.5"/><circle cx="396.1" cy="302.9" r="3.5"/><circle cx="364.7" cy="302.9" r="3.5"/><circle cx="362.8" cy="306.2" r="3.5"/><circle cx="367.2" cy="306.2" r="3.5"/><circle cx="371.6" cy="306.2" r="3.5"/><circle cx="376" cy="306.2" r="3.5"/><circle cx="380.4" cy="306.2" r="3.5"/><circle cx="384.8" cy="306.2" r="3.5"/><circle cx="389.2" cy="306.2" r="3.5"/><circle cx="393.6" cy="306.2" r="3.5"/><circle cx="398" cy="306.2" r="3.5"/><circle cx="400.5" cy="306.8" r="3.5"/><circle cx="360.6" cy="305.7" r="3.5"/><circle cx="360.6" cy="309.5" r="3.5"/><circle cx="365" cy="309.5" r="3.5"/><circle cx="369.4" cy="309.5" r="3.5"/><circle cx="373.8" cy="309.5" r="3.5"/><circle cx="378.2" cy="309.5" r="3.5"/><circle cx="382.6" cy="309.5" r="3.5"/><circle cx="387" cy="309.5" r="3.5"/><circle cx="391.4" cy="309.5" r="3.5"/><circle cx="395.8" cy="309.5" r="3.5"/><circle cx="400.2" cy="309.5" r="3.5"/><circle cx="399.7" cy="309.5" r="3.5"/><circle cx="361.1" cy="309.5" r="3.5"/><circle cx="362.8" cy="312.8" r="3.5"/><circle cx="367.2" cy="312.8" r="3.5"/><circle cx="371.6" cy="312.8" r="3.5"/><circle cx="376" cy="312.8" r="3.5"/><circle cx="380.4" cy="312.8" r="3.5"/><circle cx="384.8" cy="312.8" r="3.5"/><circle cx="389.2" cy="312.8" r="3.5"/><circle cx="393.6" cy="312.8" r="3.5"/><circle cx="398" cy="312.8" r="3.5"/><circle cx="399.7" cy="312.5" r="3.5"/><circle cx="360.8" cy="312.9" r="3.5"/><circle cx="365" cy="316.1" r="3.5"/><circle cx="369.4" cy="316.1" r="3.5"/><circle cx="373.8" cy="316.1" r="3.5"/><circle cx="378.2" cy="316.1" r="3.5"/><circle cx="382.6" cy="316.1" r="3.5"/><circle cx="387" cy="316.1" r="3.5"/><circle cx="391.4" cy="316.1" r="3.5"/><circle cx="395.8" cy="316.1" r="3.5"/><circle cx="396.8" cy="316.1" r="3.5"/><circle cx="364" cy="316.1" r="3.5"/><circle cx="367.2" cy="319.4" r="3.5"/><circle cx="371.6" cy="319.4" r="3.5"/><circle cx="376" cy="319.4" r="3.5"/><circle cx="380.4" cy="319.4" r="3.5"/><circle cx="384.8" cy="319.4" r="3.5"/><circle cx="389.2" cy="319.4" r="3.5"/><circle cx="393.6" cy="319.4" r="3.5"/><circle cx="397.3" cy="319.3" r="3.5"/><circle cx="363.1" cy="320.1" r="3.5"/><circle cx="369.4" cy="322.7" r="3.5"/><circle cx="373.8" cy="322.7" r="3.5"/><circle cx="378.2" cy="322.7" r="3.5"/><circle cx="382.6" cy="322.7" r="3.5"/><circle cx="387" cy="322.7" r="3.5"/><circle cx="391.4" cy="322.7" r="3.5"/><circle cx="394.5" cy="322.7" r="3.5"/><circle cx="366.3" cy="322.7" r="3.5"/><circle cx="367.2" cy="326" r="3.5"/><circle cx="371.6" cy="326" r="3.5"/><circle cx="376" cy="326" r="3.5"/><circle cx="380.4" cy="326" r="3.5"/><circle cx="384.8" cy="326" r="3.5"/><circle cx="389.2" cy="326" r="3.5"/><circle cx="393.6" cy="326" r="3.5"/><circle cx="395.1" cy="325.9" r="3.5"/><circle cx="365.8" cy="326.6" r="3.5"/><circle cx="369.4" cy="329.3" r="3.5"/><circle cx="373.8" cy="329.3" r="3.5"/><circle cx="378.2" cy="329.3" r="3.5"/><circle cx="382.6" cy="329.3" r="3.5"/><circle cx="387" cy="329.3" r="3.5"/><circle cx="391.4" cy="329.3" r="3.5"/><circle cx="392" cy="329.3" r="3.5"/><circle cx="368.8" cy="329.3" r="3.5"/><circle cx="371.6" cy="332.6" r="3.5"/><circle cx="376" cy="332.6" r="3.5"/><circle cx="380.4" cy="332.6" r="3.5"/><circle cx="384.8" cy="332.6" r="3.5"/><circle cx="389.2" cy="332.6" r="3.5"/><circle cx="392.7" cy="333.3" r="3.5"/><circle cx="368.1" cy="332.7" r="3.5"/><circle cx="373.8" cy="335.9" r="3.5"/><circle cx="378.2" cy="335.9" r="3.5"/><circle cx="382.6" cy="335.9" r="3.5"/><circle cx="387" cy="335.9" r="3.5"/><circle cx="389.2" cy="335.9" r="3.5"/><circle cx="371.6" cy="335.9" r="3.5"/><circle cx="376" cy="339.2" r="3.5"/><circle cx="380.4" cy="339.2" r="3.5"/><circle cx="384.8" cy="339.2" r="3.5"/><circle cx="389.7" cy="338.4" r="3.5"/><circle cx="371.1" cy="338.7" r="3.5"/><circle cx="378.2" cy="342.5" r="3.5"/><circle cx="382.6" cy="342.5" r="3.5"/><circle cx="386" cy="342.5" r="3.5"/><circle cx="374.8" cy="342.5" r="3.5"/><circle cx="376" cy="345.8" r="3.5"/><circle cx="380.4" cy="345.8" r="3.5"/><circle cx="384.8" cy="345.8" r="3.5"/><circle cx="386" cy="346.3" r="3.5"/><circle cx="374.5" cy="345.8" r="3.5"/><circle cx="378.2" cy="349.1" r="3.5"/><circle cx="382.6" cy="349.1" r="3.5"/><circle cx="383.4" cy="349.1" r="3.5"/><circle cx="377.4" cy="349.1" r="3.5"/><circle cx="380.4" cy="352.4" r="3.5"/><circle cx="384.9" cy="352.5" r="3.5"/><circle cx="375.7" cy="352.4" r="3.5"/><circle cx="381.7" cy="355.7" r="3.5"/><circle cx="379.1" cy="355.7" r="3.5"/><circle cx="380.4" cy="359" r="3.5"/><circle cx="383.3" cy="359.5" r="3.5"/><circle cx="377.1" cy="359.1" r="3.5"/><circle cx="380.9" cy="362.3" r="3.5"/><circle cx="379.9" cy="362.3" r="3.5"/><circle cx="380.4" cy="365.6" r="3.5"/><circle cx="382.2" cy="365.2" r="3.5"/><circle cx="378.9" cy="365.6" r="3.5"/><circle cx="380.4" cy="368.9" r="3.5"/><circle cx="380.4" cy="368.9" r="3.5"/><circle cx="380.4" cy="372.2" r="3.5"/><circle cx="382" cy="372.6" r="3.5"/><circle cx="379.2" cy="372.1" r="3.5"/><circle cx="380.4" cy="375.5" r="3.5"/><circle cx="380.4" cy="375.5" r="3.5"/><circle cx="380.5" cy="378.8" r="3.5"/><circle cx="380.4" cy="385.4" r="3.5"/><circle cx="380.4" cy="392" r="3.5"/><circle cx="380.6" cy="398.6" r="3.5"/><circle cx="380.4" cy="212.6" r="3.5"/><circle cx="380.4" cy="220.2" r="3.5"/><circle cx="380.4" cy="414.9" r="3.5"/><circle cx="456.5" cy="115" r="3.5"/><circle cx="457.1" cy="118.3" r="3.5"/><circle cx="455.9" cy="118.3" r="3.5"/><circle cx="456.5" cy="121.6" r="3.5"/><circle cx="459.9" cy="121.6" r="3.5"/><circle cx="453.6" cy="121.9" r="3.5"/><circle cx="454.3" cy="124.9" r="3.5"/><circle cx="458.7" cy="124.9" r="3.5"/><circle cx="458.2" cy="124.9" r="3.5"/><circle cx="454.8" cy="124.9" r="3.5"/><circle cx="447.7" cy="128.2" r="3.5"/><circle cx="452.1" cy="128.2" r="3.5"/><circle cx="456.5" cy="128.2" r="3.5"/><circle cx="460.9" cy="128.2" r="3.5"/><circle cx="465.3" cy="128.2" r="3.5"/><circle cx="468.4" cy="128.9" r="3.5"/><circle cx="444.3" cy="128.3" r="3.5"/><circle cx="445.5" cy="131.5" r="3.5"/><circle cx="449.9" cy="131.5" r="3.5"/><circle cx="454.3" cy="131.5" r="3.5"/><circle cx="458.7" cy="131.5" r="3.5"/><circle cx="463.1" cy="131.5" r="3.5"/><circle cx="467.5" cy="131.5" r="3.5"/><circle cx="470.3" cy="131.5" r="3.5"/><circle cx="442.7" cy="131.5" r="3.5"/><circle cx="443.3" cy="134.8" r="3.5"/><circle cx="447.7" cy="134.8" r="3.5"/><circle cx="452.1" cy="134.8" r="3.5"/><circle cx="456.5" cy="134.8" r="3.5"/><circle cx="460.9" cy="134.8" r="3.5"/><circle cx="465.3" cy="134.8" r="3.5"/><circle cx="469.7" cy="134.8" r="3.5"/><circle cx="476.1" cy="135.3" r="3.5"/><circle cx="436.6" cy="134.2" r="3.5"/><circle cx="441.1" cy="138.1" r="3.5"/><circle cx="445.5" cy="138.1" r="3.5"/><circle cx="449.9" cy="138.1" r="3.5"/><circle cx="454.3" cy="138.1" r="3.5"/><circle cx="458.7" cy="138.1" r="3.5"/><circle cx="463.1" cy="138.1" r="3.5"/><circle cx="467.5" cy="138.1" r="3.5"/><circle cx="471.9" cy="138.1" r="3.5"/><circle cx="475.6" cy="138.1" r="3.5"/><circle cx="437.4" cy="138.1" r="3.5"/><circle cx="438.9" cy="141.4" r="3.5"/><circle cx="443.3" cy="141.4" r="3.5"/><circle cx="447.7" cy="141.4" r="3.5"/><circle cx="452.1" cy="141.4" r="3.5"/><circle cx="456.5" cy="141.4" r="3.5"/><circle cx="460.9" cy="141.4" r="3.5"/><circle cx="465.3" cy="141.4" r="3.5"/><circle cx="469.7" cy="141.4" r="3.5"/><circle cx="474.1" cy="141.4" r="3.5"/><circle cx="478.8" cy="140.7" r="3.5"/><circle cx="434" cy="140.7" r="3.5"/><circle cx="436.7" cy="144.7" r="3.5"/><circle cx="441.1" cy="144.7" r="3.5"/><circle cx="445.5" cy="144.7" r="3.5"/><circle cx="449.9" cy="144.7" r="3.5"/><circle cx="454.3" cy="144.7" r="3.5"/><circle cx="458.7" cy="144.7" r="3.5"/><circle cx="463.1" cy="144.7" r="3.5"/><circle cx="467.5" cy="144.7" r="3.5"/><circle cx="471.9" cy="144.7" r="3.5"/><circle cx="476.3" cy="144.7" r="3.5"/><circle cx="477" cy="144.7" r="3.5"/><circle cx="436" cy="144.7" r="3.5"/><circle cx="438.9" cy="148" r="3.5"/><circle cx="443.3" cy="148" r="3.5"/><circle cx="447.7" cy="148" r="3.5"/><circle cx="452.1" cy="148" r="3.5"/><circle cx="456.5" cy="148" r="3.5"/><circle cx="460.9" cy="148" r="3.5"/><circle cx="465.3" cy="148" r="3.5"/><circle cx="469.7" cy="148" r="3.5"/><circle cx="474.1" cy="148" r="3.5"/><circle cx="479.3" cy="148.5" r="3.5"/><circle cx="434.1" cy="147.4" r="3.5"/><circle cx="436.7" cy="151.3" r="3.5"/><circle cx="441.1" cy="151.3" r="3.5"/><circle cx="445.5" cy="151.3" r="3.5"/><circle cx="449.9" cy="151.3" r="3.5"/><circle cx="454.3" cy="151.3" r="3.5"/><circle cx="458.7" cy="151.3" r="3.5"/><circle cx="463.1" cy="151.3" r="3.5"/><circle cx="467.5" cy="151.3" r="3.5"/><circle cx="471.9" cy="151.3" r="3.5"/><circle cx="476.3" cy="151.3" r="3.5"/><circle cx="477" cy="151.3" r="3.5"/><circle cx="436" cy="151.3" r="3.5"/><circle cx="438.9" cy="154.6" r="3.5"/><circle cx="443.3" cy="154.6" r="3.5"/><circle cx="447.7" cy="154.6" r="3.5"/><circle cx="452.1" cy="154.6" r="3.5"/><circle cx="456.5" cy="154.6" r="3.5"/><circle cx="460.9" cy="154.6" r="3.5"/><circle cx="465.3" cy="154.6" r="3.5"/><circle cx="469.7" cy="154.6" r="3.5"/><circle cx="474.1" cy="154.6" r="3.5"/><circle cx="479.4" cy="154.9" r="3.5"/><circle cx="433.3" cy="155.2" r="3.5"/><circle cx="441.1" cy="157.9" r="3.5"/><circle cx="445.5" cy="157.9" r="3.5"/><circle cx="449.9" cy="157.9" r="3.5"/><circle cx="454.3" cy="157.9" r="3.5"/><circle cx="458.7" cy="157.9" r="3.5"/><circle cx="463.1" cy="157.9" r="3.5"/><circle cx="467.5" cy="157.9" r="3.5"/><circle cx="471.9" cy="157.9" r="3.5"/><circle cx="472.1" cy="157.9" r="3.5"/><circle cx="440.9" cy="157.9" r="3.5"/><circle cx="443.3" cy="161.2" r="3.5"/><circle cx="447.7" cy="161.2" r="3.5"/><circle cx="452.1" cy="161.2" r="3.5"/><circle cx="456.5" cy="161.2" r="3.5"/><circle cx="460.9" cy="161.2" r="3.5"/><circle cx="465.3" cy="161.2" r="3.5"/><circle cx="469.7" cy="161.2" r="3.5"/><circle cx="473.6" cy="160.8" r="3.5"/><circle cx="439.9" cy="161" r="3.5"/><circle cx="445.5" cy="164.5" r="3.5"/><circle cx="449.9" cy="164.5" r="3.5"/><circle cx="454.3" cy="164.5" r="3.5"/><circle cx="458.7" cy="164.5" r="3.5"/><circle cx="463.1" cy="164.5" r="3.5"/><circle cx="467.5" cy="164.5" r="3.5"/><circle cx="468.8" cy="164.5" r="3.5"/><circle cx="444.2" cy="164.5" r="3.5"/><circle cx="447.7" cy="167.8" r="3.5"/><circle cx="452.1" cy="167.8" r="3.5"/><circle cx="456.5" cy="167.8" r="3.5"/><circle cx="460.9" cy="167.8" r="3.5"/><circle cx="465.3" cy="167.8" r="3.5"/><circle cx="468.1" cy="168.6" r="3.5"/><circle cx="445.2" cy="167.3" r="3.5"/><circle cx="449.9" cy="171.1" r="3.5"/><circle cx="454.3" cy="171.1" r="3.5"/><circle cx="458.7" cy="171.1" r="3.5"/><circle cx="463.1" cy="171.1" r="3.5"/><circle cx="464.7" cy="171.1" r="3.5"/><circle cx="448.3" cy="171.1" r="3.5"/><circle cx="452.1" cy="174.4" r="3.5"/><circle cx="456.5" cy="174.4" r="3.5"/><circle cx="460.9" cy="174.4" r="3.5"/><circle cx="465.6" cy="174.4" r="3.5"/><circle cx="447.2" cy="173.9" r="3.5"/><circle cx="449.9" cy="177.7" r="3.5"/><circle cx="454.3" cy="177.7" r="3.5"/><circle cx="458.7" cy="177.7" r="3.5"/><circle cx="463.1" cy="177.7" r="3.5"/><circle cx="462.9" cy="177.7" r="3.5"/><circle cx="450.1" cy="177.7" r="3.5"/><circle cx="452.1" cy="181" r="3.5"/><circle cx="456.5" cy="181" r="3.5"/><circle cx="460.9" cy="181" r="3.5"/><circle cx="463.2" cy="181.4" r="3.5"/><circle cx="449.4" cy="181.1" r="3.5"/><circle cx="454.3" cy="184.3" r="3.5"/><circle cx="458.7" cy="184.3" r="3.5"/><circle cx="458.5" cy="184.3" r="3.5"/><circle cx="454.5" cy="184.3" r="3.5"/><circle cx="456.5" cy="187.6" r="3.5"/><circle cx="458.8" cy="186.8" r="3.5"/><circle cx="454.1" cy="187.8" r="3.5"/><circle cx="456.6" cy="190.9" r="3.5"/><circle cx="456.4" cy="190.9" r="3.5"/><circle cx="456.5" cy="194.2" r="3.5"/><circle cx="458.5" cy="193.5" r="3.5"/><circle cx="455" cy="194.7" r="3.5"/><circle cx="456.5" cy="197.5" r="3.5"/><circle cx="456.5" cy="197.5" r="3.5"/><circle cx="456.5" cy="200.8" r="3.5"/><circle cx="458.8" cy="200.2" r="3.5"/><circle cx="454" cy="200.1" r="3.5"/><circle cx="456.5" cy="204.1" r="3.5"/><circle cx="456.5" cy="204.1" r="3.5"/><circle cx="458.2" cy="207" r="3.5"/><circle cx="454.5" cy="207.3" r="3.5"/><circle cx="456.9" cy="210.7" r="3.5"/><circle cx="456.8" cy="217.3" r="3.5"/><circle cx="456.3" cy="223.9" r="3.5"/><circle cx="456.1" cy="230.5" r="3.5"/><circle cx="456.9" cy="237.1" r="3.5"/><circle cx="456.6" cy="243.7" r="3.5"/><circle cx="456.7" cy="250.3" r="3.5"/><circle cx="456.1" cy="256.9" r="3.5"/><circle cx="456.1" cy="263.5" r="3.5"/><circle cx="456.5" cy="111.2" r="3.5"/><circle cx="456.5" cy="273.9" r="3.5"/><circle cx="532.6" cy="196" r="3.5"/><circle cx="532.3" cy="202.6" r="3.5"/><circle cx="532" cy="209.2" r="3.5"/><circle cx="532.8" cy="215.8" r="3.5"/><circle cx="532.5" cy="222.4" r="3.5"/><circle cx="532.7" cy="229" r="3.5"/><circle cx="532" cy="235.6" r="3.5"/><circle cx="532.8" cy="242.2" r="3.5"/><circle cx="533.1" cy="249.4" r="3.5"/><circle cx="531.7" cy="248.5" r="3.5"/><circle cx="532.4" cy="252.1" r="3.5"/><circle cx="532.4" cy="252.1" r="3.5"/><circle cx="532.4" cy="255.4" r="3.5"/><circle cx="534.9" cy="256.1" r="3.5"/><circle cx="529.7" cy="254.8" r="3.5"/><circle cx="533.7" cy="258.7" r="3.5"/><circle cx="531.1" cy="258.7" r="3.5"/><circle cx="532.4" cy="262" r="3.5"/><circle cx="537.7" cy="261.6" r="3.5"/><circle cx="526.7" cy="261.5" r="3.5"/><circle cx="530.2" cy="265.3" r="3.5"/><circle cx="534.6" cy="265.3" r="3.5"/><circle cx="536.5" cy="265.3" r="3.5"/><circle cx="528.3" cy="265.3" r="3.5"/><circle cx="528" cy="268.6" r="3.5"/><circle cx="532.4" cy="268.6" r="3.5"/><circle cx="536.8" cy="268.6" r="3.5"/><circle cx="538.2" cy="268.1" r="3.5"/><circle cx="526.4" cy="268.3" r="3.5"/><circle cx="530.2" cy="271.9" r="3.5"/><circle cx="534.6" cy="271.9" r="3.5"/><circle cx="537.2" cy="271.9" r="3.5"/><circle cx="527.6" cy="271.9" r="3.5"/><circle cx="528" cy="275.2" r="3.5"/><circle cx="532.4" cy="275.2" r="3.5"/><circle cx="536.8" cy="275.2" r="3.5"/><circle cx="540" cy="274.9" r="3.5"/><circle cx="524.8" cy="274.7" r="3.5"/><circle cx="530.2" cy="278.5" r="3.5"/><circle cx="534.6" cy="278.5" r="3.5"/><circle cx="538" cy="278.5" r="3.5"/><circle cx="526.8" cy="278.5" r="3.5"/><circle cx="528" cy="281.8" r="3.5"/><circle cx="532.4" cy="281.8" r="3.5"/><circle cx="536.8" cy="281.8" r="3.5"/><circle cx="540.4" cy="281" r="3.5"/><circle cx="524.1" cy="281" r="3.5"/><circle cx="525.8" cy="285.1" r="3.5"/><circle cx="530.2" cy="285.1" r="3.5"/><circle cx="534.6" cy="285.1" r="3.5"/><circle cx="539" cy="285.1" r="3.5"/><circle cx="539.1" cy="285.1" r="3.5"/><circle cx="525.7" cy="285.1" r="3.5"/><circle cx="528" cy="288.4" r="3.5"/><circle cx="532.4" cy="288.4" r="3.5"/><circle cx="536.8" cy="288.4" r="3.5"/><circle cx="542.1" cy="288.5" r="3.5"/><circle cx="522.4" cy="288.4" r="3.5"/><circle cx="525.8" cy="291.7" r="3.5"/><circle cx="530.2" cy="291.7" r="3.5"/><circle cx="534.6" cy="291.7" r="3.5"/><circle cx="539" cy="291.7" r="3.5"/><circle cx="540.3" cy="291.7" r="3.5"/><circle cx="524.5" cy="291.7" r="3.5"/><circle cx="523.6" cy="295" r="3.5"/><circle cx="528" cy="295" r="3.5"/><circle cx="532.4" cy="295" r="3.5"/><circle cx="536.8" cy="295" r="3.5"/><circle cx="541.2" cy="295" r="3.5"/><circle cx="543.6" cy="294.4" r="3.5"/><circle cx="521.5" cy="294.9" r="3.5"/><circle cx="525.8" cy="298.3" r="3.5"/><circle cx="530.2" cy="298.3" r="3.5"/><circle cx="534.6" cy="298.3" r="3.5"/><circle cx="539" cy="298.3" r="3.5"/><circle cx="541.5" cy="298.3" r="3.5"/><circle cx="523.3" cy="298.3" r="3.5"/><circle cx="523.6" cy="301.6" r="3.5"/><circle cx="528" cy="301.6" r="3.5"/><circle cx="532.4" cy="301.6" r="3.5"/><circle cx="536.8" cy="301.6" r="3.5"/><circle cx="541.2" cy="301.6" r="3.5"/><circle cx="544.1" cy="302.1" r="3.5"/><circle cx="520.5" cy="301.6" r="3.5"/><circle cx="525.8" cy="304.9" r="3.5"/><circle cx="530.2" cy="304.9" r="3.5"/><circle cx="534.6" cy="304.9" r="3.5"/><circle cx="539" cy="304.9" r="3.5"/><circle cx="542.7" cy="304.9" r="3.5"/><circle cx="522.1" cy="304.9" r="3.5"/><circle cx="519.2" cy="308.2" r="3.5"/><circle cx="523.6" cy="308.2" r="3.5"/><circle cx="528" cy="308.2" r="3.5"/><circle cx="532.4" cy="308.2" r="3.5"/><circle cx="536.8" cy="308.2" r="3.5"/><circle cx="541.2" cy="308.2" r="3.5"/><circle cx="545.6" cy="308.2" r="3.5"/><circle cx="549.5" cy="309" r="3.5"/><circle cx="515.1" cy="308.7" r="3.5"/><circle cx="521.4" cy="311.5" r="3.5"/><circle cx="525.8" cy="311.5" r="3.5"/><circle cx="530.2" cy="311.5" r="3.5"/><circle cx="534.6" cy="311.5" r="3.5"/><circle cx="539" cy="311.5" r="3.5"/><circle cx="543.4" cy="311.5" r="3.5"/><circle cx="547.2" cy="311.5" r="3.5"/><circle cx="517.6" cy="311.5" r="3.5"/><circle cx="519.2" cy="314.8" r="3.5"/><circle cx="523.6" cy="314.8" r="3.5"/><circle cx="528" cy="314.8" r="3.5"/><circle cx="532.4" cy="314.8" r="3.5"/><circle cx="536.8" cy="314.8" r="3.5"/><circle cx="541.2" cy="314.8" r="3.5"/><circle cx="545.6" cy="314.8" r="3.5"/><circle cx="549.2" cy="315" r="3.5"/><circle cx="515.5" cy="314.6" r="3.5"/><circle cx="521.4" cy="318.1" r="3.5"/><circle cx="525.8" cy="318.1" r="3.5"/><circle cx="530.2" cy="318.1" r="3.5"/><circle cx="534.6" cy="318.1" r="3.5"/><circle cx="539" cy="318.1" r="3.5"/><circle cx="543.4" cy="318.1" r="3.5"/><circle cx="543.2" cy="318.1" r="3.5"/><circle cx="521.6" cy="318.1" r="3.5"/><circle cx="523.6" cy="321.4" r="3.5"/><circle cx="528" cy="321.4" r="3.5"/><circle cx="532.4" cy="321.4" r="3.5"/><circle cx="536.8" cy="321.4" r="3.5"/><circle cx="541.2" cy="321.4" r="3.5"/><circle cx="544.6" cy="320.8" r="3.5"/><circle cx="519.8" cy="321.8" r="3.5"/><circle cx="521.4" cy="324.7" r="3.5"/><circle cx="525.8" cy="324.7" r="3.5"/><circle cx="530.2" cy="324.7" r="3.5"/><circle cx="534.6" cy="324.7" r="3.5"/><circle cx="539" cy="324.7" r="3.5"/><circle cx="543.4" cy="324.7" r="3.5"/><circle cx="543.2" cy="324.7" r="3.5"/><circle cx="521.6" cy="324.7" r="3.5"/><circle cx="523.6" cy="328" r="3.5"/><circle cx="528" cy="328" r="3.5"/><circle cx="532.4" cy="328" r="3.5"/><circle cx="536.8" cy="328" r="3.5"/><circle cx="541.2" cy="328" r="3.5"/><circle cx="544.9" cy="327.5" r="3.5"/><circle cx="519.5" cy="328.5" r="3.5"/><circle cx="521.4" cy="331.3" r="3.5"/><circle cx="525.8" cy="331.3" r="3.5"/><circle cx="530.2" cy="331.3" r="3.5"/><circle cx="534.6" cy="331.3" r="3.5"/><circle cx="539" cy="331.3" r="3.5"/><circle cx="543.4" cy="331.3" r="3.5"/><circle cx="543" cy="331.3" r="3.5"/><circle cx="521.8" cy="331.3" r="3.5"/><circle cx="523.6" cy="334.6" r="3.5"/><circle cx="528" cy="334.6" r="3.5"/><circle cx="532.4" cy="334.6" r="3.5"/><circle cx="536.8" cy="334.6" r="3.5"/><circle cx="541.2" cy="334.6" r="3.5"/><circle cx="545.3" cy="334.9" r="3.5"/><circle cx="519.2" cy="334.2" r="3.5"/><circle cx="525.8" cy="337.9" r="3.5"/><circle cx="530.2" cy="337.9" r="3.5"/><circle cx="534.6" cy="337.9" r="3.5"/><circle cx="539" cy="337.9" r="3.5"/><circle cx="542.5" cy="337.9" r="3.5"/><circle cx="522.3" cy="337.9" r="3.5"/><circle cx="523.6" cy="341.2" r="3.5"/><circle cx="528" cy="341.2" r="3.5"/><circle cx="532.4" cy="341.2" r="3.5"/><circle cx="536.8" cy="341.2" r="3.5"/><circle cx="541.2" cy="341.2" r="3.5"/><circle cx="543.9" cy="341.1" r="3.5"/><circle cx="520.5" cy="341.1" r="3.5"/><circle cx="525.8" cy="344.5" r="3.5"/><circle cx="530.2" cy="344.5" r="3.5"/><circle cx="534.6" cy="344.5" r="3.5"/><circle cx="539" cy="344.5" r="3.5"/><circle cx="541.8" cy="344.5" r="3.5"/><circle cx="523" cy="344.5" r="3.5"/><circle cx="523.6" cy="347.8" r="3.5"/><circle cx="528" cy="347.8" r="3.5"/><circle cx="532.4" cy="347.8" r="3.5"/><circle cx="536.8" cy="347.8" r="3.5"/><circle cx="541.2" cy="347.8" r="3.5"/><circle cx="543.1" cy="348.5" r="3.5"/><circle cx="522.2" cy="347.9" r="3.5"/><circle cx="525.8" cy="351.1" r="3.5"/><circle cx="530.2" cy="351.1" r="3.5"/><circle cx="534.6" cy="351.1" r="3.5"/><circle cx="539" cy="351.1" r="3.5"/><circle cx="541" cy="351.1" r="3.5"/><circle cx="523.8" cy="351.1" r="3.5"/><circle cx="528" cy="354.4" r="3.5"/><circle cx="532.4" cy="354.4" r="3.5"/><circle cx="536.8" cy="354.4" r="3.5"/><circle cx="542.2" cy="355.1" r="3.5"/><circle cx="522.4" cy="354.2" r="3.5"/><circle cx="525.8" cy="357.7" r="3.5"/><circle cx="530.2" cy="357.7" r="3.5"/><circle cx="534.6" cy="357.7" r="3.5"/><circle cx="539" cy="357.7" r="3.5"/><circle cx="540" cy="357.7" r="3.5"/><circle cx="524.8" cy="357.7" r="3.5"/><circle cx="528" cy="361" r="3.5"/><circle cx="532.4" cy="361" r="3.5"/><circle cx="536.8" cy="361" r="3.5"/><circle cx="540.8" cy="360.8" r="3.5"/><circle cx="523.9" cy="361" r="3.5"/><circle cx="525.8" cy="364.3" r="3.5"/><circle cx="530.2" cy="364.3" r="3.5"/><circle cx="534.6" cy="364.3" r="3.5"/><circle cx="539" cy="364.3" r="3.5"/><circle cx="539" cy="364.3" r="3.5"/><circle cx="525.8" cy="364.3" r="3.5"/><circle cx="528" cy="367.6" r="3.5"/><circle cx="532.4" cy="367.6" r="3.5"/><circle cx="536.8" cy="367.6" r="3.5"/><circle cx="540.2" cy="367.6" r="3.5"/><circle cx="524.1" cy="367.2" r="3.5"/><circle cx="530.2" cy="370.9" r="3.5"/><circle cx="534.6" cy="370.9" r="3.5"/><circle cx="538.1" cy="370.9" r="3.5"/><circle cx="526.7" cy="370.9" r="3.5"/><circle cx="528" cy="374.2" r="3.5"/><circle cx="532.4" cy="374.2" r="3.5"/><circle cx="536.8" cy="374.2" r="3.5"/><circle cx="539.2" cy="374" r="3.5"/><circle cx="525.1" cy="373.4" r="3.5"/><circle cx="530.2" cy="377.5" r="3.5"/><circle cx="534.6" cy="377.5" r="3.5"/><circle cx="537.4" cy="377.5" r="3.5"/><circle cx="527.4" cy="377.5" r="3.5"/><circle cx="528" cy="380.8" r="3.5"/><circle cx="532.4" cy="380.8" r="3.5"/><circle cx="536.8" cy="380.8" r="3.5"/><circle cx="538.9" cy="380.4" r="3.5"/><circle cx="526" cy="380.8" r="3.5"/><circle cx="530.2" cy="384.1" r="3.5"/><circle cx="534.6" cy="384.1" r="3.5"/><circle cx="537" cy="384.1" r="3.5"/><circle cx="527.8" cy="384.1" r="3.5"/><circle cx="528" cy="387.4" r="3.5"/><circle cx="532.4" cy="387.4" r="3.5"/><circle cx="536.8" cy="387.4" r="3.5"/><circle cx="539.2" cy="387.7" r="3.5"/><circle cx="525.8" cy="388" r="3.5"/><circle cx="530.2" cy="390.7" r="3.5"/><circle cx="534.6" cy="390.7" r="3.5"/><circle cx="536" cy="390.7" r="3.5"/><circle cx="528.8" cy="390.7" r="3.5"/><circle cx="532.4" cy="394" r="3.5"/><circle cx="536.4" cy="393.7" r="3.5"/><circle cx="528.9" cy="393.4" r="3.5"/><circle cx="532.8" cy="397.3" r="3.5"/><circle cx="532" cy="397.3" r="3.5"/><circle cx="532.6" cy="400.6" r="3.5"/><circle cx="532.4" cy="192.2" r="3.5"/><circle cx="510.1" cy="484.7" r="3.5"/><circle cx="513.1" cy="484.7" r="3.5"/><circle cx="516.1" cy="484.7" r="3.5"/><circle cx="519.1" cy="484.7" r="3.5"/><circle cx="522.1" cy="484.7" r="3.5"/><circle cx="525.1" cy="484.7" r="3.5"/><circle cx="528.1" cy="484.7" r="3.5"/><circle cx="531.1" cy="484.7" r="3.5"/><circle cx="534.1" cy="484.7" r="3.5"/><circle cx="537.1" cy="484.7" r="3.5"/><circle cx="540.1" cy="484.7" r="3.5"/><circle cx="543.1" cy="484.7" r="3.5"/><circle cx="546.1" cy="484.7" r="3.5"/><circle cx="549.1" cy="484.7" r="3.5"/><circle cx="552.1" cy="484.7" r="3.5"/><circle cx="555.1" cy="484.7" r="3.5"/></g>
<path d="M177.9 77.2V484.9H585" fill="none" stroke="#000" stroke-width="2.7" stroke-linejoin="miter"/>
<path d="M170.4 78.4H177.9M170.4 136.5H177.9M170.4 194.5H177.9M170.4 252.6H177.9M170.4 310.7H177.9M170.4 368.8H177.9M170.4 426.8H177.9M170.4 484.9H177.9M228.1 484.9V492.6M304.4 484.9V492.6M380.4 484.9V492.6M456.5 484.9V492.6M532.4 484.9V492.6" fill="none" stroke="#000" stroke-width="2.5"/>
<text x="164.3" y="88.5" font-size="28.4" text-anchor="end">1000</text>
<text x="164.3" y="146.6" font-size="28.4" text-anchor="end">100</text>
<text x="164.3" y="204.6" font-size="28.4" text-anchor="end">10</text>
<text x="164.3" y="262.7" font-size="28.4" text-anchor="end">1</text>
<text x="164.3" y="320.8" font-size="28.4" text-anchor="end">0.1</text>
<text x="164.3" y="378.9" font-size="28.4" text-anchor="end">0.01</text>
<text x="164.3" y="436.9" font-size="28.4" text-anchor="end">0.001</text>
<text x="164.3" y="495" font-size="28.4" text-anchor="end">0.0001</text>
<text transform="translate(236.7 519.5) rotate(-45)" font-size="28.5" text-anchor="end">AXL</text>
<text transform="translate(313 519.5) rotate(-45)" font-size="28.5" text-anchor="end">MERTK</text>
<text transform="translate(389 519.5) rotate(-45)" font-size="28.5" text-anchor="end">TYRO3</text>
<text transform="translate(465.1 519.5) rotate(-45)" font-size="28.5" text-anchor="end">GAS6</text>
<text transform="translate(541 519.5) rotate(-45)" font-size="28.5" text-anchor="end">PROS1</text>
<text transform="translate(23.2 284.3) rotate(-90)" font-size="28.5" text-anchor="middle">Gene expression</text>
<text transform="translate(57.1 284.8) rotate(-90)" font-size="28.5" text-anchor="middle">(FPKM)</text>
<rect x="897" y="243.2" width="299" height="241.4" fill="#cccccc"/>
<rect x="897" y="243.2" width="299" height="4.6" fill="#999999"/>
<path d="M917 139.5H936.6M917 423.6H936.6M926.8 139.5V423.6" fill="none" stroke="#000" stroke-width="2.6"/>
<path d="M908.2 237.7H945.6V304.6H908.2Z" fill="#fff" stroke="#000" stroke-width="2.4"/>
<path d="M908.2 270.9H945.6" fill="none" stroke="#000" stroke-width="2.3"/>
<path d="M976.9 155.5H996.5M976.9 390.6H996.5M986.7 155.5V390.6" fill="none" stroke="#000" stroke-width="2.6"/>
<path d="M967.9 273.3H1005.4V359.9H967.9Z" fill="#fff" stroke="#000" stroke-width="2.4"/>
<path d="M967.9 331.3H1005.4" fill="none" stroke="#000" stroke-width="2.3"/>
<path d="M1036.4 183.1H1056M1036.4 387.8H1056M1046.2 183.1V387.8" fill="none" stroke="#000" stroke-width="2.6"/>
<path d="M1027.6 251.4H1065.2V330.9H1027.6Z" fill="#fff" stroke="#000" stroke-width="2.4"/>
<path d="M1027.6 285.9H1065.2" fill="none" stroke="#000" stroke-width="2.3"/>
<path d="M1096.3 94.4H1115.9M1096.3 442.1H1115.9M1106.1 94.4V442.1" fill="none" stroke="#000" stroke-width="2.6"/>
<path d="M1087.4 239.7H1124.9V314H1087.4Z" fill="#fff" stroke="#000" stroke-width="2.4"/>
<path d="M1087.4 283.2H1124.9" fill="none" stroke="#000" stroke-width="2.3"/>
<path d="M1156.2 132.8H1175.8M1156.2 430.9H1175.8M1166 132.8V430.9" fill="none" stroke="#000" stroke-width="2.6"/>
<path d="M1147.4 257.4H1184.6V334.2H1147.4Z" fill="#fff" stroke="#000" stroke-width="2.4"/>
<path d="M1147.4 292.5H1184.6" fill="none" stroke="#000" stroke-width="2.3"/>
<g fill="#000"><circle cx="925.1" cy="139.5" r="2.9"/><circle cx="928.6" cy="143.3" r="2.9"/><circle cx="923.4" cy="155.1" r="2.9"/><circle cx="927" cy="159.9" r="2.9"/><circle cx="926.9" cy="171" r="2.9"/><circle cx="927" cy="179.9" r="2.9"/><circle cx="930.5" cy="181" r="2.9"/><circle cx="923.4" cy="186.2" r="2.9"/><circle cx="929.1" cy="188.1" r="2.9"/><circle cx="926.7" cy="190.6" r="2.9"/><circle cx="923.4" cy="196.7" r="2.9"/><circle cx="929.9" cy="196.7" r="2.9"/><circle cx="926.7" cy="200.9" r="2.9"/><circle cx="920" cy="204.7" r="2.9"/><circle cx="933.9" cy="204.3" r="2.9"/><circle cx="930.5" cy="206.2" r="2.9"/><circle cx="923.8" cy="208.1" r="2.9"/><circle cx="927" cy="211" r="2.9"/><circle cx="923.8" cy="215.3" r="2.9"/><circle cx="929.9" cy="215.7" r="2.9"/><circle cx="920" cy="219.9" r="2.9"/><circle cx="926.7" cy="221.4" r="2.9"/><circle cx="930.5" cy="222.4" r="2.9"/><circle cx="923.4" cy="224.7" r="2.9"/><circle cx="916.6" cy="228.1" r="2.9"/><circle cx="937.1" cy="228.1" r="2.9"/><circle cx="920" cy="229.4" r="2.9"/><circle cx="933.3" cy="230" r="2.9"/><circle cx="927" cy="228.1" r="2.9"/><circle cx="930.5" cy="232.9" r="2.9"/><circle cx="923.8" cy="234.4" r="2.9"/><circle cx="913.2" cy="233.5" r="2.9"/><circle cx="940.4" cy="235.2" r="2.9"/><circle cx="918.3" cy="236.5" r="2.9"/><circle cx="935.4" cy="237" r="2.9"/><circle cx="927.1" cy="238.2" r="2.9"/><circle cx="917" cy="239.8" r="2.9"/><circle cx="924.3" cy="242" r="2.9"/><circle cx="930.6" cy="241.6" r="2.9"/><circle cx="937" cy="241.8" r="2.9"/><circle cx="912.4" cy="246.1" r="2.9"/><circle cx="919.4" cy="246.9" r="2.9"/><circle cx="927" cy="246.8" r="2.9"/><circle cx="933.5" cy="247" r="2.9"/><circle cx="940.4" cy="246.5" r="2.9"/><circle cx="914" cy="250.8" r="2.9"/><circle cx="921.8" cy="250.5" r="2.9"/><circle cx="931.1" cy="250.5" r="2.9"/><circle cx="940" cy="252.4" r="2.9"/><circle cx="912.4" cy="257.3" r="2.9"/><circle cx="919.9" cy="257.5" r="2.9"/><circle cx="926.8" cy="255.7" r="2.9"/><circle cx="934.7" cy="257.6" r="2.9"/><circle cx="941.4" cy="257" r="2.9"/><circle cx="914.8" cy="262.4" r="2.9"/><circle cx="922" cy="262.6" r="2.9"/><circle cx="930.3" cy="260.9" r="2.9"/><circle cx="938.8" cy="261.4" r="2.9"/><circle cx="913.1" cy="265.5" r="2.9"/><circle cx="920.6" cy="267.5" r="2.9"/><circle cx="927.1" cy="266" r="2.9"/><circle cx="934" cy="266.8" r="2.9"/><circle cx="941.1" cy="267" r="2.9"/><circle cx="910.6" cy="271.3" r="2.9"/><circle cx="913.9" cy="270" r="2.9"/><circle cx="918.3" cy="271.5" r="2.9"/><circle cx="922.5" cy="271.1" r="2.9"/><circle cx="926" cy="269.8" r="2.9"/><circle cx="930.6" cy="271.3" r="2.9"/><circle cx="935.5" cy="271.4" r="2.9"/><circle cx="938.7" cy="270.9" r="2.9"/><circle cx="943.2" cy="270.8" r="2.9"/><circle cx="917.8" cy="275" r="2.9"/><circle cx="927.5" cy="275.2" r="2.9"/><circle cx="935.8" cy="277.2" r="2.9"/><circle cx="914.3" cy="279.7" r="2.9"/><circle cx="920.7" cy="281.8" r="2.9"/><circle cx="928.3" cy="280.9" r="2.9"/><circle cx="933.4" cy="280.2" r="2.9"/><circle cx="940.3" cy="282.2" r="2.9"/><circle cx="911" cy="286.5" r="2.9"/><circle cx="916.4" cy="286.4" r="2.9"/><circle cx="924.3" cy="285.3" r="2.9"/><circle cx="930.2" cy="286.3" r="2.9"/><circle cx="936.5" cy="286.8" r="2.9"/><circle cx="942" cy="285.6" r="2.9"/><circle cx="913.3" cy="291" r="2.9"/><circle cx="919.3" cy="289.7" r="2.9"/><circle cx="927.3" cy="290.9" r="2.9"/><circle cx="933.9" cy="290.1" r="2.9"/><circle cx="941.3" cy="290.6" r="2.9"/><circle cx="910.6" cy="296.5" r="2.9"/><circle cx="916" cy="296.3" r="2.9"/><circle cx="924.1" cy="294.6" r="2.9"/><circle cx="930.6" cy="296.2" r="2.9"/><circle cx="937" cy="295.1" r="2.9"/><circle cx="942.6" cy="295.3" r="2.9"/><circle cx="911.2" cy="301.5" r="2.9"/><circle cx="917.5" cy="299.8" r="2.9"/><circle cx="923.4" cy="299.6" r="2.9"/><circle cx="928.9" cy="299.2" r="2.9"/><circle cx="936.6" cy="299.6" r="2.9"/><circle cx="942.2" cy="301.3" r="2.9"/><circle cx="912.5" cy="304" r="2.9"/><circle cx="919.5" cy="303.8" r="2.9"/><circle cx="926.2" cy="305.8" r="2.9"/><circle cx="934.3" cy="305.4" r="2.9"/><circle cx="940.5" cy="304.9" r="2.9"/><circle cx="916.3" cy="310.1" r="2.9"/><circle cx="923.7" cy="309.6" r="2.9"/><circle cx="930.1" cy="309.6" r="2.9"/><circle cx="938.3" cy="308.9" r="2.9"/><circle cx="918.1" cy="314.4" r="2.9"/><circle cx="926.7" cy="312.8" r="2.9"/><circle cx="936.1" cy="315.1" r="2.9"/><circle cx="916.4" cy="318.9" r="2.9"/><circle cx="926" cy="318.5" r="2.9"/><circle cx="936.4" cy="319.6" r="2.9"/><circle cx="921.4" cy="323.4" r="2.9"/><circle cx="933.4" cy="324.4" r="2.9"/><circle cx="917.6" cy="329.1" r="2.9"/><circle cx="926.3" cy="328.1" r="2.9"/><circle cx="935.6" cy="328.1" r="2.9"/><circle cx="921.4" cy="334.6" r="2.9"/><circle cx="931.4" cy="333.5" r="2.9"/><circle cx="915.9" cy="338.7" r="2.9"/><circle cx="922.2" cy="337.5" r="2.9"/><circle cx="925.7" cy="336.8" r="2.9"/><circle cx="930.9" cy="337.2" r="2.9"/><circle cx="937.1" cy="336.5" r="2.9"/><circle cx="922.5" cy="342.4" r="2.9"/><circle cx="930.5" cy="343.2" r="2.9"/><circle cx="924.7" cy="349.6" r="2.9"/><circle cx="929.9" cy="348.8" r="2.9"/><circle cx="923.1" cy="354.7" r="2.9"/><circle cx="930.3" cy="354.3" r="2.9"/><circle cx="926.3" cy="361" r="2.9"/><circle cx="924.6" cy="366.7" r="2.9"/><circle cx="928.6" cy="367.2" r="2.9"/><circle cx="926.5" cy="374.3" r="2.9"/><circle cx="923.2" cy="378.6" r="2.9"/><circle cx="929.9" cy="382.2" r="2.9"/><circle cx="926.9" cy="412.7" r="2.9"/><circle cx="926.8" cy="423.6" r="2.9"/><circle cx="986.7" cy="155.5" r="2.9"/><circle cx="980.9" cy="228.7" r="2.9"/><circle cx="992.6" cy="227.2" r="2.9"/><circle cx="980.9" cy="230.5" r="2.9"/><circle cx="986.7" cy="239" r="2.9"/><circle cx="986.7" cy="247.5" r="2.9"/><circle cx="980.9" cy="262.5" r="2.9"/><circle cx="969.3" cy="268.1" r="2.9"/><circle cx="992.6" cy="268.1" r="2.9"/><circle cx="1004" cy="266.2" r="2.9"/><circle cx="986.7" cy="285.3" r="2.9"/><circle cx="986.7" cy="295.8" r="2.9"/><circle cx="980.9" cy="305.1" r="2.9"/><circle cx="992.6" cy="307.4" r="2.9"/><circle cx="980.9" cy="311.5" r="2.9"/><circle cx="969.3" cy="319.2" r="2.9"/><circle cx="980.9" cy="320.5" r="2.9"/><circle cx="992.6" cy="322.9" r="2.9"/><circle cx="969.3" cy="333" r="2.9"/><circle cx="980.9" cy="330" r="2.9"/><circle cx="992.6" cy="331.4" r="2.9"/><circle cx="1004" cy="331.4" r="2.9"/><circle cx="986.7" cy="340.6" r="2.9"/><circle cx="969.3" cy="348.1" r="2.9"/><circle cx="980.9" cy="349" r="2.9"/><circle cx="1004" cy="350.9" r="2.9"/><circle cx="980.9" cy="354.6" r="2.9"/><circle cx="992.6" cy="354.6" r="2.9"/><circle cx="969.3" cy="358.8" r="2.9"/><circle cx="1004" cy="358.8" r="2.9"/><circle cx="1004" cy="364" r="2.9"/><circle cx="969.3" cy="367.8" r="2.9"/><circle cx="980.9" cy="365.9" r="2.9"/><circle cx="992.6" cy="364" r="2.9"/><circle cx="992.6" cy="369.1" r="2.9"/><circle cx="980.9" cy="374.7" r="2.9"/><circle cx="992.6" cy="374.3" r="2.9"/><circle cx="980.9" cy="382.7" r="2.9"/><circle cx="992.6" cy="385.5" r="2.9"/><circle cx="980.9" cy="390.6" r="2.9"/><circle cx="1043.9" cy="183.1" r="2.9"/><circle cx="1048.4" cy="187.8" r="2.9"/><circle cx="1045.8" cy="196.2" r="2.9"/><circle cx="1043.9" cy="202.8" r="2.9"/><circle cx="1049" cy="204.1" r="2.9"/><circle cx="1043.9" cy="209.3" r="2.9"/><circle cx="1048.4" cy="211.6" r="2.9"/><circle cx="1038.7" cy="223.4" r="2.9"/><circle cx="1053.7" cy="224.7" r="2.9"/><circle cx="1043.9" cy="228.1" r="2.9"/><circle cx="1034" cy="235.5" r="2.9"/><circle cx="1039.1" cy="233.7" r="2.9"/><circle cx="1053.7" cy="233.7" r="2.9"/><circle cx="1058.9" cy="234.6" r="2.9"/><circle cx="1039.1" cy="239.7" r="2.9"/><circle cx="1049" cy="238.4" r="2.9"/><circle cx="1053.7" cy="239.7" r="2.9"/><circle cx="1044.3" cy="244.9" r="2.9"/><circle cx="1053.7" cy="244.9" r="2.9"/><circle cx="1039.1" cy="250.5" r="2.9"/><circle cx="1044.3" cy="251.5" r="2.9"/><circle cx="1053.7" cy="249.6" r="2.9"/><circle cx="1058.9" cy="247.7" r="2.9"/><circle cx="1049" cy="253.3" r="2.9"/><circle cx="1044.3" cy="263.1" r="2.9"/><circle cx="1049" cy="264.6" r="2.9"/><circle cx="1048.4" cy="269.3" r="2.9"/><circle cx="1039.1" cy="272.1" r="2.9"/><circle cx="1043.9" cy="272.1" r="2.9"/><circle cx="1034" cy="273.9" r="2.9"/><circle cx="1053.7" cy="273.9" r="2.9"/><circle cx="1048.4" cy="276.7" r="2.9"/><circle cx="1044.3" cy="280.1" r="2.9"/><circle cx="1049" cy="281.4" r="2.9"/><circle cx="1029.2" cy="285.8" r="2.9"/><circle cx="1034" cy="284.3" r="2.9"/><circle cx="1038.9" cy="285" r="2.9"/><circle cx="1043.8" cy="285.2" r="2.9"/><circle cx="1048.7" cy="285.7" r="2.9"/><circle cx="1053.6" cy="284.5" r="2.9"/><circle cx="1058.5" cy="284.6" r="2.9"/><circle cx="1063.4" cy="284.5" r="2.9"/><circle cx="1039.1" cy="292.5" r="2.9"/><circle cx="1044.3" cy="294.3" r="2.9"/><circle cx="1049" cy="294.3" r="2.9"/><circle cx="1053.7" cy="293.4" r="2.9"/><circle cx="1034" cy="301.8" r="2.9"/><circle cx="1053.7" cy="300.9" r="2.9"/><circle cx="1034" cy="307.5" r="2.9"/><circle cx="1043.9" cy="308.4" r="2.9"/><circle cx="1049" cy="304.6" r="2.9"/><circle cx="1058.9" cy="308.4" r="2.9"/><circle cx="1039.1" cy="312.1" r="2.9"/><circle cx="1053.7" cy="312.1" r="2.9"/><circle cx="1044.3" cy="316.4" r="2.9"/><circle cx="1049" cy="316.8" r="2.9"/><circle cx="1053.7" cy="321.5" r="2.9"/><circle cx="1039.1" cy="324.7" r="2.9"/><circle cx="1044.3" cy="326.2" r="2.9"/><circle cx="1053.7" cy="326.2" r="2.9"/><circle cx="1039.1" cy="329.9" r="2.9"/><circle cx="1049" cy="330.3" r="2.9"/><circle cx="1029.2" cy="335.3" r="2.9"/><circle cx="1034" cy="335.4" r="2.9"/><circle cx="1038.9" cy="336.3" r="2.9"/><circle cx="1043.8" cy="336.1" r="2.9"/><circle cx="1048.7" cy="336.2" r="2.9"/><circle cx="1053.6" cy="334.6" r="2.9"/><circle cx="1058.5" cy="334.7" r="2.9"/><circle cx="1063.4" cy="335.9" r="2.9"/><circle cx="1044.3" cy="340.2" r="2.9"/><circle cx="1049" cy="338.4" r="2.9"/><circle cx="1058.9" cy="339.3" r="2.9"/><circle cx="1034" cy="344.5" r="2.9"/><circle cx="1039.1" cy="346.8" r="2.9"/><circle cx="1049" cy="344" r="2.9"/><circle cx="1053.7" cy="343" r="2.9"/><circle cx="1034" cy="350.5" r="2.9"/><circle cx="1044.3" cy="352.4" r="2.9"/><circle cx="1049" cy="347.7" r="2.9"/><circle cx="1053.7" cy="352.4" r="2.9"/><circle cx="1058.9" cy="351.5" r="2.9"/><circle cx="1046.2" cy="367.4" r="2.9"/><circle cx="1046.2" cy="387.8" r="2.9"/><circle cx="1106.1" cy="94.4" r="2.9"/><circle cx="1106.1" cy="114.9" r="2.9"/><circle cx="1105.1" cy="130.9" r="2.9"/><circle cx="1107.3" cy="130.9" r="2.9"/><circle cx="1106.1" cy="139.9" r="2.9"/><circle cx="1106.1" cy="146.5" r="2.9"/><circle cx="1106.1" cy="151.2" r="2.9"/><circle cx="1106.1" cy="156.4" r="2.9"/><circle cx="1104.9" cy="162.4" r="2.9"/><circle cx="1107.5" cy="162.4" r="2.9"/><circle cx="1106.1" cy="166.5" r="2.9"/><circle cx="1102.9" cy="173" r="2.9"/><circle cx="1109.5" cy="174.2" r="2.9"/><circle cx="1106.1" cy="177.4" r="2.9"/><circle cx="1104.6" cy="180.9" r="2.9"/><circle cx="1108.6" cy="181.2" r="2.9"/><circle cx="1103.1" cy="184.7" r="2.9"/><circle cx="1107.9" cy="186.2" r="2.9"/><circle cx="1104.5" cy="190.5" r="2.9"/><circle cx="1108.5" cy="190.8" r="2.9"/><circle cx="1103.4" cy="192.9" r="2.9"/><circle cx="1108.2" cy="193" r="2.9"/><circle cx="1098.5" cy="200.1" r="2.9"/><circle cx="1104.7" cy="200.2" r="2.9"/><circle cx="1109" cy="200.3" r="2.9"/><circle cx="1113.7" cy="199.5" r="2.9"/><circle cx="1104" cy="202.7" r="2.9"/><circle cx="1108.4" cy="204.8" r="2.9"/><circle cx="1103.2" cy="209.7" r="2.9"/><circle cx="1108.4" cy="208.9" r="2.9"/><circle cx="1103.7" cy="212" r="2.9"/><circle cx="1108.1" cy="212.3" r="2.9"/><circle cx="1102.3" cy="217.1" r="2.9"/><circle cx="1105.3" cy="215.3" r="2.9"/><circle cx="1110.3" cy="216.6" r="2.9"/><circle cx="1098.4" cy="220.3" r="2.9"/><circle cx="1102.9" cy="220.9" r="2.9"/><circle cx="1107.6" cy="220" r="2.9"/><circle cx="1114" cy="220.5" r="2.9"/><circle cx="1097.2" cy="224.9" r="2.9"/><circle cx="1104.4" cy="224.4" r="2.9"/><circle cx="1109.2" cy="223.8" r="2.9"/><circle cx="1116.2" cy="225.8" r="2.9"/><circle cx="1095.3" cy="227.5" r="2.9"/><circle cx="1101.5" cy="228" r="2.9"/><circle cx="1110.4" cy="227.8" r="2.9"/><circle cx="1117.3" cy="227.3" r="2.9"/><circle cx="1093.3" cy="232.7" r="2.9"/><circle cx="1099.1" cy="230.2" r="2.9"/><circle cx="1105.9" cy="231.3" r="2.9"/><circle cx="1113.2" cy="230.7" r="2.9"/><circle cx="1119.3" cy="232.3" r="2.9"/><circle cx="1091.4" cy="235" r="2.9"/><circle cx="1096.7" cy="236.3" r="2.9"/><circle cx="1102.9" cy="235.9" r="2.9"/><circle cx="1108.7" cy="234.2" r="2.9"/><circle cx="1116" cy="234.4" r="2.9"/><circle cx="1121.4" cy="236.3" r="2.9"/><circle cx="1089.9" cy="237.5" r="2.9"/><circle cx="1093.9" cy="238.2" r="2.9"/><circle cx="1099.5" cy="239.7" r="2.9"/><circle cx="1102.9" cy="238.1" r="2.9"/><circle cx="1107.7" cy="239.7" r="2.9"/><circle cx="1112.2" cy="237.1" r="2.9"/><circle cx="1116.6" cy="238.1" r="2.9"/><circle cx="1122.3" cy="239.5" r="2.9"/><circle cx="1090.2" cy="242.5" r="2.9"/><circle cx="1095.5" cy="243" r="2.9"/><circle cx="1098" cy="240.9" r="2.9"/><circle cx="1103.5" cy="242.5" r="2.9"/><circle cx="1105.4" cy="242.3" r="2.9"/><circle cx="1110.4" cy="241.4" r="2.9"/><circle cx="1114.4" cy="240.9" r="2.9"/><circle cx="1117.7" cy="241.2" r="2.9"/><circle cx="1123" cy="241.4" r="2.9"/><circle cx="1090.2" cy="244.1" r="2.9"/><circle cx="1095.5" cy="244.4" r="2.9"/><circle cx="1098.1" cy="246.1" r="2.9"/><circle cx="1103.3" cy="245" r="2.9"/><circle cx="1105.6" cy="245.1" r="2.9"/><circle cx="1110.4" cy="246.4" r="2.9"/><circle cx="1114.1" cy="244.8" r="2.9"/><circle cx="1119.9" cy="243.9" r="2.9"/><circle cx="1123" cy="245" r="2.9"/><circle cx="1090.7" cy="249.3" r="2.9"/><circle cx="1094.1" cy="247.3" r="2.9"/><circle cx="1098.7" cy="249.8" r="2.9"/><circle cx="1103.6" cy="249.3" r="2.9"/><circle cx="1109.7" cy="248.1" r="2.9"/><circle cx="1112.7" cy="249.9" r="2.9"/><circle cx="1118" cy="247.9" r="2.9"/><circle cx="1122.3" cy="249.2" r="2.9"/><circle cx="1093.9" cy="251.4" r="2.9"/><circle cx="1097.5" cy="252.7" r="2.9"/><circle cx="1104.5" cy="252.4" r="2.9"/><circle cx="1109.3" cy="250.7" r="2.9"/><circle cx="1112.4" cy="251.9" r="2.9"/><circle cx="1117.9" cy="253.3" r="2.9"/><circle cx="1095.4" cy="255.1" r="2.9"/><circle cx="1099.3" cy="255.2" r="2.9"/><circle cx="1104.4" cy="256.6" r="2.9"/><circle cx="1108.1" cy="256.2" r="2.9"/><circle cx="1113.9" cy="256.3" r="2.9"/><circle cx="1117.8" cy="256.2" r="2.9"/><circle cx="1095.2" cy="258.3" r="2.9"/><circle cx="1099.2" cy="258.4" r="2.9"/><circle cx="1104.7" cy="257.6" r="2.9"/><circle cx="1107.7" cy="259.5" r="2.9"/><circle cx="1112.2" cy="257.6" r="2.9"/><circle cx="1117.2" cy="257.5" r="2.9"/><circle cx="1095.2" cy="261.7" r="2.9"/><circle cx="1100.7" cy="263.3" r="2.9"/><circle cx="1105.1" cy="261.5" r="2.9"/><circle cx="1107.4" cy="261.1" r="2.9"/><circle cx="1112.8" cy="262.8" r="2.9"/><circle cx="1117.2" cy="262.1" r="2.9"/><circle cx="1094.8" cy="265.4" r="2.9"/><circle cx="1099.5" cy="266.1" r="2.9"/><circle cx="1104.2" cy="266.6" r="2.9"/><circle cx="1108.4" cy="264.5" r="2.9"/><circle cx="1113.2" cy="265" r="2.9"/><circle cx="1116.8" cy="265.8" r="2.9"/><circle cx="1094.9" cy="269.7" r="2.9"/><circle cx="1098.6" cy="268.3" r="2.9"/><circle cx="1103.1" cy="268" r="2.9"/><circle cx="1109.1" cy="269.2" r="2.9"/><circle cx="1112.1" cy="268.7" r="2.9"/><circle cx="1116.9" cy="270.4" r="2.9"/><circle cx="1094.1" cy="271.6" r="2.9"/><circle cx="1099.6" cy="272.8" r="2.9"/><circle cx="1104.9" cy="271.3" r="2.9"/><circle cx="1108.4" cy="273.3" r="2.9"/><circle cx="1114.1" cy="273.6" r="2.9"/><circle cx="1118.1" cy="271.1" r="2.9"/><circle cx="1091.9" cy="274.7" r="2.9"/><circle cx="1095.8" cy="277.1" r="2.9"/><circle cx="1101.4" cy="277" r="2.9"/><circle cx="1105.5" cy="276.8" r="2.9"/><circle cx="1110.4" cy="275.1" r="2.9"/><circle cx="1115.9" cy="277" r="2.9"/><circle cx="1119.9" cy="274.7" r="2.9"/><circle cx="1091.2" cy="279.5" r="2.9"/><circle cx="1094.8" cy="278.8" r="2.9"/><circle cx="1098.9" cy="278.4" r="2.9"/><circle cx="1103.5" cy="279.5" r="2.9"/><circle cx="1108.7" cy="278.4" r="2.9"/><circle cx="1111.5" cy="278.7" r="2.9"/><circle cx="1117.4" cy="278.3" r="2.9"/><circle cx="1121.2" cy="278.7" r="2.9"/><circle cx="1090.5" cy="283.4" r="2.9"/><circle cx="1095" cy="281.4" r="2.9"/><circle cx="1098.3" cy="282.3" r="2.9"/><circle cx="1103.7" cy="283" r="2.9"/><circle cx="1106.9" cy="281.7" r="2.9"/><circle cx="1112.7" cy="282.3" r="2.9"/><circle cx="1116.1" cy="282.1" r="2.9"/><circle cx="1120.9" cy="283.9" r="2.9"/><circle cx="1090.9" cy="286.2" r="2.9"/><circle cx="1094.8" cy="285.8" r="2.9"/><circle cx="1100.3" cy="287.4" r="2.9"/><circle cx="1103.4" cy="285.2" r="2.9"/><circle cx="1108.6" cy="285.2" r="2.9"/><circle cx="1111.1" cy="287.1" r="2.9"/><circle cx="1116.4" cy="286.9" r="2.9"/><circle cx="1120.9" cy="285.7" r="2.9"/><circle cx="1094.6" cy="289.3" r="2.9"/><circle cx="1098.5" cy="288" r="2.9"/><circle cx="1104.3" cy="289.8" r="2.9"/><circle cx="1109.9" cy="288.2" r="2.9"/><circle cx="1114.1" cy="289" r="2.9"/><circle cx="1118.6" cy="289.4" r="2.9"/><circle cx="1094.7" cy="292.2" r="2.9"/><circle cx="1099.1" cy="294" r="2.9"/><circle cx="1102.5" cy="292.8" r="2.9"/><circle cx="1108.6" cy="294.1" r="2.9"/><circle cx="1111.5" cy="291.8" r="2.9"/><circle cx="1116.7" cy="294" r="2.9"/><circle cx="1096.7" cy="296.2" r="2.9"/><circle cx="1099.6" cy="297.4" r="2.9"/><circle cx="1104.4" cy="297.3" r="2.9"/><circle cx="1109" cy="297.1" r="2.9"/><circle cx="1111.9" cy="297" r="2.9"/><circle cx="1116.7" cy="295.4" r="2.9"/><circle cx="1096" cy="300.6" r="2.9"/><circle cx="1100.8" cy="298.7" r="2.9"/><circle cx="1103.3" cy="299.3" r="2.9"/><circle cx="1108" cy="299.3" r="2.9"/><circle cx="1111.1" cy="298.9" r="2.9"/><circle cx="1116" cy="300.2" r="2.9"/><circle cx="1096.1" cy="301.7" r="2.9"/><circle cx="1100.4" cy="303.7" r="2.9"/><circle cx="1103.4" cy="303.9" r="2.9"/><circle cx="1107.8" cy="303.3" r="2.9"/><circle cx="1113" cy="303.4" r="2.9"/><circle cx="1117.1" cy="302.5" r="2.9"/><circle cx="1095" cy="306.6" r="2.9"/><circle cx="1099.2" cy="306.8" r="2.9"/><circle cx="1103.7" cy="306.2" r="2.9"/><circle cx="1107.1" cy="306.7" r="2.9"/><circle cx="1112.6" cy="305.7" r="2.9"/><circle cx="1117" cy="307.1" r="2.9"/><circle cx="1095" cy="309.7" r="2.9"/><circle cx="1098.8" cy="309.7" r="2.9"/><circle cx="1103.2" cy="308.8" r="2.9"/><circle cx="1108.5" cy="308.7" r="2.9"/><circle cx="1113.1" cy="309.8" r="2.9"/><circle cx="1117.8" cy="308.5" r="2.9"/><circle cx="1094.9" cy="312" r="2.9"/><circle cx="1100" cy="314" r="2.9"/><circle cx="1104" cy="312" r="2.9"/><circle cx="1108.6" cy="312.9" r="2.9"/><circle cx="1114.2" cy="312.2" r="2.9"/><circle cx="1117.7" cy="314.2" r="2.9"/><circle cx="1099.2" cy="317.2" r="2.9"/><circle cx="1105" cy="315.7" r="2.9"/><circle cx="1110.4" cy="316.6" r="2.9"/><circle cx="1114.2" cy="317.9" r="2.9"/><circle cx="1101.6" cy="319.1" r="2.9"/><circle cx="1105.6" cy="321.2" r="2.9"/><circle cx="1107.2" cy="319.6" r="2.9"/><circle cx="1111.6" cy="320.7" r="2.9"/><circle cx="1102.3" cy="324.6" r="2.9"/><circle cx="1105.2" cy="324.4" r="2.9"/><circle cx="1109.1" cy="322.5" r="2.9"/><circle cx="1103.7" cy="328.7" r="2.9"/><circle cx="1108.5" cy="326.7" r="2.9"/><circle cx="1090.5" cy="333.4" r="2.9"/><circle cx="1094.5" cy="332.1" r="2.9"/><circle cx="1098.5" cy="332.5" r="2.9"/><circle cx="1104.7" cy="333.9" r="2.9"/><circle cx="1109" cy="332.5" r="2.9"/><circle cx="1113.1" cy="332.3" r="2.9"/><circle cx="1116.8" cy="333.8" r="2.9"/><circle cx="1121.1" cy="333" r="2.9"/><circle cx="1101.5" cy="338.2" r="2.9"/><circle cx="1105.1" cy="339.1" r="2.9"/><circle cx="1107.3" cy="339.4" r="2.9"/><circle cx="1111.5" cy="338.4" r="2.9"/><circle cx="1101.2" cy="342.8" r="2.9"/><circle cx="1103.8" cy="343.4" r="2.9"/><circle cx="1107.8" cy="341.6" r="2.9"/><circle cx="1110.8" cy="342.7" r="2.9"/><circle cx="1101.6" cy="345.1" r="2.9"/><circle cx="1106.6" cy="344.7" r="2.9"/><circle cx="1110.4" cy="346.9" r="2.9"/><circle cx="1101.6" cy="350.4" r="2.9"/><circle cx="1107" cy="350.2" r="2.9"/><circle cx="1110" cy="350.5" r="2.9"/><circle cx="1100.4" cy="352.6" r="2.9"/><circle cx="1102.9" cy="353" r="2.9"/><circle cx="1108" cy="353.8" r="2.9"/><circle cx="1111.4" cy="354" r="2.9"/><circle cx="1099.2" cy="356.5" r="2.9"/><circle cx="1103.5" cy="357.9" r="2.9"/><circle cx="1107.9" cy="356.1" r="2.9"/><circle cx="1114" cy="357.1" r="2.9"/><circle cx="1097.8" cy="360.6" r="2.9"/><circle cx="1102.4" cy="361.2" r="2.9"/><circle cx="1108.4" cy="360.2" r="2.9"/><circle cx="1113.4" cy="361.3" r="2.9"/><circle cx="1099.1" cy="363.5" r="2.9"/><circle cx="1104.8" cy="363.8" r="2.9"/><circle cx="1107.6" cy="363.4" r="2.9"/><circle cx="1113.1" cy="364.9" r="2.9"/><circle cx="1102" cy="368.8" r="2.9"/><circle cx="1106.3" cy="367.3" r="2.9"/><circle cx="1111" cy="366.6" r="2.9"/><circle cx="1103.7" cy="371.7" r="2.9"/><circle cx="1108.9" cy="371.1" r="2.9"/><circle cx="1104.3" cy="374.8" r="2.9"/><circle cx="1108.3" cy="376.2" r="2.9"/><circle cx="1104.3" cy="378.4" r="2.9"/><circle cx="1108.4" cy="381.2" r="2.9"/><circle cx="1106.1" cy="408.4" r="2.9"/><circle cx="1107.1" cy="417.8" r="2.9"/><circle cx="1104.9" cy="420.2" r="2.9"/><circle cx="1106.1" cy="442.1" r="2.9"/><circle cx="1166" cy="132.8" r="2.9"/><circle cx="1166" cy="161.1" r="2.9"/><circle cx="1166" cy="195.4" r="2.9"/><circle cx="1159" cy="205" r="2.9"/><circle cx="1166" cy="205" r="2.9"/><circle cx="1172.7" cy="205" r="2.9"/><circle cx="1166" cy="210.6" r="2.9"/><circle cx="1166" cy="220.9" r="2.9"/><circle cx="1166" cy="231.2" r="2.9"/><circle cx="1166" cy="237.7" r="2.9"/><circle cx="1162.4" cy="243.4" r="2.9"/><circle cx="1168.9" cy="243.4" r="2.9"/><circle cx="1176.4" cy="240.9" r="2.9"/><circle cx="1169.9" cy="251.4" r="2.9"/><circle cx="1176.4" cy="252.2" r="2.9"/><circle cx="1148.3" cy="257" r="2.9"/><circle cx="1155.8" cy="261.5" r="2.9"/><circle cx="1162.4" cy="260.2" r="2.9"/><circle cx="1169.9" cy="258.3" r="2.9"/><circle cx="1176.4" cy="260.2" r="2.9"/><circle cx="1183" cy="257.4" r="2.9"/><circle cx="1169.9" cy="264.9" r="2.9"/><circle cx="1148.3" cy="278" r="2.9"/><circle cx="1155.8" cy="278.2" r="2.9"/><circle cx="1162.4" cy="278.9" r="2.9"/><circle cx="1169.9" cy="279" r="2.9"/><circle cx="1176.4" cy="279.9" r="2.9"/><circle cx="1183.3" cy="276.5" r="2.9"/><circle cx="1155.8" cy="285" r="2.9"/><circle cx="1176.4" cy="287.6" r="2.9"/><circle cx="1169.9" cy="288.9" r="2.9"/><circle cx="1155.8" cy="292.8" r="2.9"/><circle cx="1162.4" cy="294.3" r="2.9"/><circle cx="1169.9" cy="295.3" r="2.9"/><circle cx="1176.4" cy="302.2" r="2.9"/><circle cx="1169.9" cy="304.6" r="2.9"/><circle cx="1162.4" cy="305.6" r="2.9"/><circle cx="1176.4" cy="307.8" r="2.9"/><circle cx="1183.3" cy="312.1" r="2.9"/><circle cx="1148.3" cy="313.4" r="2.9"/><circle cx="1155.8" cy="314" r="2.9"/><circle cx="1162.4" cy="314.4" r="2.9"/><circle cx="1168.9" cy="316.8" r="2.9"/><circle cx="1165.7" cy="323.4" r="2.9"/><circle cx="1155.8" cy="329.9" r="2.9"/><circle cx="1162.4" cy="329.6" r="2.9"/><circle cx="1176.4" cy="335.5" r="2.9"/><circle cx="1169.9" cy="336.5" r="2.9"/><circle cx="1155.8" cy="339.3" r="2.9"/><circle cx="1162.4" cy="342.1" r="2.9"/><circle cx="1169.9" cy="342.1" r="2.9"/><circle cx="1162.4" cy="352" r="2.9"/><circle cx="1169.9" cy="355.8" r="2.9"/><circle cx="1162.4" cy="359.5" r="2.9"/><circle cx="1176.4" cy="362.7" r="2.9"/><circle cx="1162.4" cy="366.4" r="2.9"/><circle cx="1169.9" cy="366.4" r="2.9"/><circle cx="1176.4" cy="368.3" r="2.9"/><circle cx="1169.9" cy="372.4" r="2.9"/><circle cx="1166" cy="385" r="2.9"/><circle cx="1162.4" cy="430.9" r="2.9"/><circle cx="1169.3" cy="429.9" r="2.9"/></g>
<path d="M897 84.3V484.6H1197.5" fill="none" stroke="#000" stroke-width="2.5"/>
<path d="M889.6 85.6H897M889.6 165.4H897M889.6 245.2H897M889.6 325H897M889.6 404.8H897M889.6 484.6H897M926.8 484.6V491M986.7 484.6V491M1046.2 484.6V491M1106.1 484.6V491M1166 484.6V491" fill="none" stroke="#000" stroke-width="2.5"/>
<path d="M892.2 141.4H897M892.2 127.3H897M892.2 117.4H897M892.2 109.6H897M892.2 103.3H897M892.2 98H897M892.2 93.3H897M892.2 89.3H897M892.2 221.2H897M892.2 207.1H897M892.2 197.2H897M892.2 189.4H897M892.2 183.1H897M892.2 177.8H897M892.2 173.1H897M892.2 169.1H897M892.2 301H897M892.2 286.9H897M892.2 277H897M892.2 269.2H897M892.2 262.9H897M892.2 257.6H897M892.2 252.9H897M892.2 248.9H897M892.2 380.8H897M892.2 366.7H897M892.2 356.8H897M892.2 349H897M892.2 342.7H897M892.2 337.4H897M892.2 332.7H897M892.2 328.7H897M892.2 460.6H897M892.2 446.5H897M892.2 436.6H897M892.2 428.8H897M892.2 422.5H897M892.2 417.2H897M892.2 412.5H897M892.2 408.5H897" fill="none" stroke="#000" stroke-width="2.1"/>
<text x="888.8" y="95.6" font-size="28.4" text-anchor="end">100</text>
<text x="888.8" y="175.4" font-size="28.4" text-anchor="end">10</text>
<text x="888.8" y="255.2" font-size="28.4" text-anchor="end">1</text>
<text x="888.8" y="335" font-size="28.4" text-anchor="end">0.1</text>
<text x="888.8" y="414.8" font-size="28.4" text-anchor="end">0.01</text>
<text x="888.8" y="494.6" font-size="28.4" text-anchor="end">0.001</text>
<text transform="translate(937.4 512.1) rotate(-45)" font-size="28.4" text-anchor="end">Cyclin</text>
<text transform="translate(997.3 512.1) rotate(-45)" font-size="28.4" text-anchor="end">MAF</text>
<text transform="translate(1056.8 512.1) rotate(-45)" font-size="28.4" text-anchor="end">NSD2 t(4;14)</text>
<text transform="translate(1116.7 512.1) rotate(-45)" font-size="28.4" text-anchor="end">hyperdiploidy</text>
<text transform="translate(1176.6 512.1) rotate(-45)" font-size="28.4" text-anchor="end">Other</text>
<text transform="translate(769 275.2) rotate(-90)" font-size="31.5" font-weight="700" font-style="italic" text-anchor="middle">AXL</text>
<text transform="translate(805.2 278) rotate(-90)" font-size="32.2" text-anchor="middle">(FPKM)</text>
<path d="M986.5 36.7H1106.2M926.8 74.5H982.8M990.3 74.5H1046.2" fill="none" stroke="#000" stroke-width="1.3"/>
<text x="1018.4" y="41.3" font-size="31.5" font-weight="700" letter-spacing="2.2" style="stroke:none">****</text>
<text x="926.9" y="79.9" font-size="31.5" font-weight="700" letter-spacing="2.2" style="stroke:none">****</text>
<text x="1012.0" y="79.9" font-size="31.5" font-weight="700" letter-spacing="2.2" style="stroke:none">*</text>
</svg>
</body></html>
